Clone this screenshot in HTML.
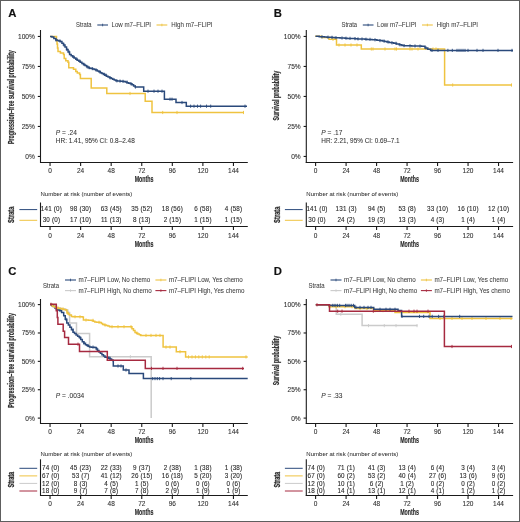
<!DOCTYPE html><html><head><meta charset="utf-8"><style>html,body{margin:0;padding:0;background:#fff;}svg{display:block;will-change:transform;}text{font-family:"Liberation Sans",sans-serif;}</style></head><body>
<svg width="520" height="522" viewBox="0 0 520 522">
<rect x="0" y="0" width="520" height="522" fill="#fff"/>
<line x1="40.50" y1="30.00" x2="40.50" y2="163.00" stroke="#1a1a1a" stroke-width="1.1"/>
<line x1="37.80" y1="36.45" x2="40.50" y2="36.45" stroke="#1a1a1a" stroke-width="1.1"/>
<text x="34.90" y="38.90" font-size="6.6" text-anchor="end" fill="#2e2e2e" stroke="#2e2e2e" stroke-width="0.08" font-weight="normal" font-style="normal">100%</text>
<line x1="37.80" y1="66.45" x2="40.50" y2="66.45" stroke="#1a1a1a" stroke-width="1.1"/>
<text x="34.90" y="68.90" font-size="6.6" text-anchor="end" fill="#2e2e2e" stroke="#2e2e2e" stroke-width="0.08" font-weight="normal" font-style="normal">75%</text>
<line x1="37.80" y1="96.45" x2="40.50" y2="96.45" stroke="#1a1a1a" stroke-width="1.1"/>
<text x="34.90" y="98.90" font-size="6.6" text-anchor="end" fill="#2e2e2e" stroke="#2e2e2e" stroke-width="0.08" font-weight="normal" font-style="normal">50%</text>
<line x1="37.80" y1="126.45" x2="40.50" y2="126.45" stroke="#1a1a1a" stroke-width="1.1"/>
<text x="34.90" y="128.90" font-size="6.6" text-anchor="end" fill="#2e2e2e" stroke="#2e2e2e" stroke-width="0.08" font-weight="normal" font-style="normal">25%</text>
<line x1="37.80" y1="156.45" x2="40.50" y2="156.45" stroke="#1a1a1a" stroke-width="1.1"/>
<text x="34.90" y="158.90" font-size="6.6" text-anchor="end" fill="#2e2e2e" stroke="#2e2e2e" stroke-width="0.08" font-weight="normal" font-style="normal">0%</text>
<line x1="40.00" y1="162.50" x2="247.80" y2="162.50" stroke="#1a1a1a" stroke-width="1.1"/>
<line x1="50.05" y1="162.50" x2="50.05" y2="166.00" stroke="#1a1a1a" stroke-width="1.1"/>
<text x="50.05" y="173.00" font-size="6.5" text-anchor="middle" fill="#2e2e2e" stroke="#2e2e2e" stroke-width="0.08" font-weight="normal" font-style="normal">0</text>
<line x1="80.62" y1="162.50" x2="80.62" y2="166.00" stroke="#1a1a1a" stroke-width="1.1"/>
<text x="80.62" y="173.00" font-size="6.5" text-anchor="middle" fill="#2e2e2e" stroke="#2e2e2e" stroke-width="0.08" font-weight="normal" font-style="normal">24</text>
<line x1="111.18" y1="162.50" x2="111.18" y2="166.00" stroke="#1a1a1a" stroke-width="1.1"/>
<text x="111.18" y="173.00" font-size="6.5" text-anchor="middle" fill="#2e2e2e" stroke="#2e2e2e" stroke-width="0.08" font-weight="normal" font-style="normal">48</text>
<line x1="141.75" y1="162.50" x2="141.75" y2="166.00" stroke="#1a1a1a" stroke-width="1.1"/>
<text x="141.75" y="173.00" font-size="6.5" text-anchor="middle" fill="#2e2e2e" stroke="#2e2e2e" stroke-width="0.08" font-weight="normal" font-style="normal">72</text>
<line x1="172.32" y1="162.50" x2="172.32" y2="166.00" stroke="#1a1a1a" stroke-width="1.1"/>
<text x="172.32" y="173.00" font-size="6.5" text-anchor="middle" fill="#2e2e2e" stroke="#2e2e2e" stroke-width="0.08" font-weight="normal" font-style="normal">96</text>
<line x1="202.88" y1="162.50" x2="202.88" y2="166.00" stroke="#1a1a1a" stroke-width="1.1"/>
<text x="202.88" y="173.00" font-size="6.5" text-anchor="middle" fill="#2e2e2e" stroke="#2e2e2e" stroke-width="0.08" font-weight="normal" font-style="normal">120</text>
<line x1="233.45" y1="162.50" x2="233.45" y2="166.00" stroke="#1a1a1a" stroke-width="1.1"/>
<text x="233.45" y="173.00" font-size="6.5" text-anchor="middle" fill="#2e2e2e" stroke="#2e2e2e" stroke-width="0.08" font-weight="normal" font-style="normal">144</text>
<text x="144.10" y="181.55" font-size="8.8" text-anchor="middle" fill="#2a2a2a" stroke="#2a2a2a" stroke-width="0.15" font-weight="bold" font-style="normal" textLength="18.8" lengthAdjust="spacingAndGlyphs" dy="0.2">Months</text>
<text x="0" y="0" font-size="8.8" font-weight="bold" text-anchor="middle" fill="#2a2a2a" stroke="#2a2a2a" stroke-width="0.2" transform="translate(13.70,97.20) rotate(-90)" textLength="93.7" lengthAdjust="spacingAndGlyphs">Progression–free survival probability</text>
<line x1="306.30" y1="30.00" x2="306.30" y2="163.00" stroke="#1a1a1a" stroke-width="1.1"/>
<line x1="303.60" y1="36.45" x2="306.30" y2="36.45" stroke="#1a1a1a" stroke-width="1.1"/>
<text x="300.70" y="38.90" font-size="6.6" text-anchor="end" fill="#2e2e2e" stroke="#2e2e2e" stroke-width="0.08" font-weight="normal" font-style="normal">100%</text>
<line x1="303.60" y1="66.45" x2="306.30" y2="66.45" stroke="#1a1a1a" stroke-width="1.1"/>
<text x="300.70" y="68.90" font-size="6.6" text-anchor="end" fill="#2e2e2e" stroke="#2e2e2e" stroke-width="0.08" font-weight="normal" font-style="normal">75%</text>
<line x1="303.60" y1="96.45" x2="306.30" y2="96.45" stroke="#1a1a1a" stroke-width="1.1"/>
<text x="300.70" y="98.90" font-size="6.6" text-anchor="end" fill="#2e2e2e" stroke="#2e2e2e" stroke-width="0.08" font-weight="normal" font-style="normal">50%</text>
<line x1="303.60" y1="126.45" x2="306.30" y2="126.45" stroke="#1a1a1a" stroke-width="1.1"/>
<text x="300.70" y="128.90" font-size="6.6" text-anchor="end" fill="#2e2e2e" stroke="#2e2e2e" stroke-width="0.08" font-weight="normal" font-style="normal">25%</text>
<line x1="303.60" y1="156.45" x2="306.30" y2="156.45" stroke="#1a1a1a" stroke-width="1.1"/>
<text x="300.70" y="158.90" font-size="6.6" text-anchor="end" fill="#2e2e2e" stroke="#2e2e2e" stroke-width="0.08" font-weight="normal" font-style="normal">0%</text>
<line x1="305.80" y1="162.50" x2="513.10" y2="162.50" stroke="#1a1a1a" stroke-width="1.1"/>
<line x1="315.60" y1="162.50" x2="315.60" y2="166.00" stroke="#1a1a1a" stroke-width="1.1"/>
<text x="315.60" y="173.00" font-size="6.5" text-anchor="middle" fill="#2e2e2e" stroke="#2e2e2e" stroke-width="0.08" font-weight="normal" font-style="normal">0</text>
<line x1="346.09" y1="162.50" x2="346.09" y2="166.00" stroke="#1a1a1a" stroke-width="1.1"/>
<text x="346.09" y="173.00" font-size="6.5" text-anchor="middle" fill="#2e2e2e" stroke="#2e2e2e" stroke-width="0.08" font-weight="normal" font-style="normal">24</text>
<line x1="376.58" y1="162.50" x2="376.58" y2="166.00" stroke="#1a1a1a" stroke-width="1.1"/>
<text x="376.58" y="173.00" font-size="6.5" text-anchor="middle" fill="#2e2e2e" stroke="#2e2e2e" stroke-width="0.08" font-weight="normal" font-style="normal">48</text>
<line x1="407.07" y1="162.50" x2="407.07" y2="166.00" stroke="#1a1a1a" stroke-width="1.1"/>
<text x="407.07" y="173.00" font-size="6.5" text-anchor="middle" fill="#2e2e2e" stroke="#2e2e2e" stroke-width="0.08" font-weight="normal" font-style="normal">72</text>
<line x1="437.56" y1="162.50" x2="437.56" y2="166.00" stroke="#1a1a1a" stroke-width="1.1"/>
<text x="437.56" y="173.00" font-size="6.5" text-anchor="middle" fill="#2e2e2e" stroke="#2e2e2e" stroke-width="0.08" font-weight="normal" font-style="normal">96</text>
<line x1="468.05" y1="162.50" x2="468.05" y2="166.00" stroke="#1a1a1a" stroke-width="1.1"/>
<text x="468.05" y="173.00" font-size="6.5" text-anchor="middle" fill="#2e2e2e" stroke="#2e2e2e" stroke-width="0.08" font-weight="normal" font-style="normal">120</text>
<line x1="498.54" y1="162.50" x2="498.54" y2="166.00" stroke="#1a1a1a" stroke-width="1.1"/>
<text x="498.54" y="173.00" font-size="6.5" text-anchor="middle" fill="#2e2e2e" stroke="#2e2e2e" stroke-width="0.08" font-weight="normal" font-style="normal">144</text>
<text x="409.60" y="181.55" font-size="8.8" text-anchor="middle" fill="#2a2a2a" stroke="#2a2a2a" stroke-width="0.15" font-weight="bold" font-style="normal" textLength="18.8" lengthAdjust="spacingAndGlyphs" dy="0.2">Months</text>
<text x="0" y="0" font-size="8.8" font-weight="bold" text-anchor="middle" fill="#2a2a2a" stroke="#2a2a2a" stroke-width="0.2" transform="translate(279.20,95.60) rotate(-90)" textLength="49.6" lengthAdjust="spacingAndGlyphs">Survival probability</text>
<line x1="40.50" y1="299.00" x2="40.50" y2="424.00" stroke="#1a1a1a" stroke-width="1.1"/>
<line x1="37.80" y1="304.60" x2="40.50" y2="304.60" stroke="#1a1a1a" stroke-width="1.1"/>
<text x="34.90" y="307.05" font-size="6.6" text-anchor="end" fill="#2e2e2e" stroke="#2e2e2e" stroke-width="0.08" font-weight="normal" font-style="normal">100%</text>
<line x1="37.80" y1="332.98" x2="40.50" y2="332.98" stroke="#1a1a1a" stroke-width="1.1"/>
<text x="34.90" y="335.43" font-size="6.6" text-anchor="end" fill="#2e2e2e" stroke="#2e2e2e" stroke-width="0.08" font-weight="normal" font-style="normal">75%</text>
<line x1="37.80" y1="361.35" x2="40.50" y2="361.35" stroke="#1a1a1a" stroke-width="1.1"/>
<text x="34.90" y="363.80" font-size="6.6" text-anchor="end" fill="#2e2e2e" stroke="#2e2e2e" stroke-width="0.08" font-weight="normal" font-style="normal">50%</text>
<line x1="37.80" y1="389.73" x2="40.50" y2="389.73" stroke="#1a1a1a" stroke-width="1.1"/>
<text x="34.90" y="392.18" font-size="6.6" text-anchor="end" fill="#2e2e2e" stroke="#2e2e2e" stroke-width="0.08" font-weight="normal" font-style="normal">25%</text>
<line x1="37.80" y1="418.10" x2="40.50" y2="418.10" stroke="#1a1a1a" stroke-width="1.1"/>
<text x="34.90" y="420.55" font-size="6.6" text-anchor="end" fill="#2e2e2e" stroke="#2e2e2e" stroke-width="0.08" font-weight="normal" font-style="normal">0%</text>
<line x1="40.00" y1="423.50" x2="247.80" y2="423.50" stroke="#1a1a1a" stroke-width="1.1"/>
<line x1="50.05" y1="423.50" x2="50.05" y2="427.00" stroke="#1a1a1a" stroke-width="1.1"/>
<text x="50.05" y="434.35" font-size="6.5" text-anchor="middle" fill="#2e2e2e" stroke="#2e2e2e" stroke-width="0.08" font-weight="normal" font-style="normal">0</text>
<line x1="80.62" y1="423.50" x2="80.62" y2="427.00" stroke="#1a1a1a" stroke-width="1.1"/>
<text x="80.62" y="434.35" font-size="6.5" text-anchor="middle" fill="#2e2e2e" stroke="#2e2e2e" stroke-width="0.08" font-weight="normal" font-style="normal">24</text>
<line x1="111.18" y1="423.50" x2="111.18" y2="427.00" stroke="#1a1a1a" stroke-width="1.1"/>
<text x="111.18" y="434.35" font-size="6.5" text-anchor="middle" fill="#2e2e2e" stroke="#2e2e2e" stroke-width="0.08" font-weight="normal" font-style="normal">48</text>
<line x1="141.75" y1="423.50" x2="141.75" y2="427.00" stroke="#1a1a1a" stroke-width="1.1"/>
<text x="141.75" y="434.35" font-size="6.5" text-anchor="middle" fill="#2e2e2e" stroke="#2e2e2e" stroke-width="0.08" font-weight="normal" font-style="normal">72</text>
<line x1="172.32" y1="423.50" x2="172.32" y2="427.00" stroke="#1a1a1a" stroke-width="1.1"/>
<text x="172.32" y="434.35" font-size="6.5" text-anchor="middle" fill="#2e2e2e" stroke="#2e2e2e" stroke-width="0.08" font-weight="normal" font-style="normal">96</text>
<line x1="202.88" y1="423.50" x2="202.88" y2="427.00" stroke="#1a1a1a" stroke-width="1.1"/>
<text x="202.88" y="434.35" font-size="6.5" text-anchor="middle" fill="#2e2e2e" stroke="#2e2e2e" stroke-width="0.08" font-weight="normal" font-style="normal">120</text>
<line x1="233.45" y1="423.50" x2="233.45" y2="427.00" stroke="#1a1a1a" stroke-width="1.1"/>
<text x="233.45" y="434.35" font-size="6.5" text-anchor="middle" fill="#2e2e2e" stroke="#2e2e2e" stroke-width="0.08" font-weight="normal" font-style="normal">144</text>
<text x="144.10" y="442.90" font-size="8.8" text-anchor="middle" fill="#2a2a2a" stroke="#2a2a2a" stroke-width="0.15" font-weight="bold" font-style="normal" textLength="18.8" lengthAdjust="spacingAndGlyphs" dy="0.2">Months</text>
<text x="0" y="0" font-size="8.8" font-weight="bold" text-anchor="middle" fill="#2a2a2a" stroke="#2a2a2a" stroke-width="0.2" transform="translate(13.70,360.40) rotate(-90)" textLength="94.5" lengthAdjust="spacingAndGlyphs">Progression–free survival probability</text>
<line x1="306.30" y1="299.00" x2="306.30" y2="424.00" stroke="#1a1a1a" stroke-width="1.1"/>
<line x1="303.60" y1="304.60" x2="306.30" y2="304.60" stroke="#1a1a1a" stroke-width="1.1"/>
<text x="300.70" y="307.05" font-size="6.6" text-anchor="end" fill="#2e2e2e" stroke="#2e2e2e" stroke-width="0.08" font-weight="normal" font-style="normal">100%</text>
<line x1="303.60" y1="332.98" x2="306.30" y2="332.98" stroke="#1a1a1a" stroke-width="1.1"/>
<text x="300.70" y="335.43" font-size="6.6" text-anchor="end" fill="#2e2e2e" stroke="#2e2e2e" stroke-width="0.08" font-weight="normal" font-style="normal">75%</text>
<line x1="303.60" y1="361.35" x2="306.30" y2="361.35" stroke="#1a1a1a" stroke-width="1.1"/>
<text x="300.70" y="363.80" font-size="6.6" text-anchor="end" fill="#2e2e2e" stroke="#2e2e2e" stroke-width="0.08" font-weight="normal" font-style="normal">50%</text>
<line x1="303.60" y1="389.73" x2="306.30" y2="389.73" stroke="#1a1a1a" stroke-width="1.1"/>
<text x="300.70" y="392.18" font-size="6.6" text-anchor="end" fill="#2e2e2e" stroke="#2e2e2e" stroke-width="0.08" font-weight="normal" font-style="normal">25%</text>
<line x1="303.60" y1="418.10" x2="306.30" y2="418.10" stroke="#1a1a1a" stroke-width="1.1"/>
<text x="300.70" y="420.55" font-size="6.6" text-anchor="end" fill="#2e2e2e" stroke="#2e2e2e" stroke-width="0.08" font-weight="normal" font-style="normal">0%</text>
<line x1="305.80" y1="423.50" x2="513.10" y2="423.50" stroke="#1a1a1a" stroke-width="1.1"/>
<line x1="315.60" y1="423.50" x2="315.60" y2="427.00" stroke="#1a1a1a" stroke-width="1.1"/>
<text x="315.60" y="434.35" font-size="6.5" text-anchor="middle" fill="#2e2e2e" stroke="#2e2e2e" stroke-width="0.08" font-weight="normal" font-style="normal">0</text>
<line x1="346.09" y1="423.50" x2="346.09" y2="427.00" stroke="#1a1a1a" stroke-width="1.1"/>
<text x="346.09" y="434.35" font-size="6.5" text-anchor="middle" fill="#2e2e2e" stroke="#2e2e2e" stroke-width="0.08" font-weight="normal" font-style="normal">24</text>
<line x1="376.58" y1="423.50" x2="376.58" y2="427.00" stroke="#1a1a1a" stroke-width="1.1"/>
<text x="376.58" y="434.35" font-size="6.5" text-anchor="middle" fill="#2e2e2e" stroke="#2e2e2e" stroke-width="0.08" font-weight="normal" font-style="normal">48</text>
<line x1="407.07" y1="423.50" x2="407.07" y2="427.00" stroke="#1a1a1a" stroke-width="1.1"/>
<text x="407.07" y="434.35" font-size="6.5" text-anchor="middle" fill="#2e2e2e" stroke="#2e2e2e" stroke-width="0.08" font-weight="normal" font-style="normal">72</text>
<line x1="437.56" y1="423.50" x2="437.56" y2="427.00" stroke="#1a1a1a" stroke-width="1.1"/>
<text x="437.56" y="434.35" font-size="6.5" text-anchor="middle" fill="#2e2e2e" stroke="#2e2e2e" stroke-width="0.08" font-weight="normal" font-style="normal">96</text>
<line x1="468.05" y1="423.50" x2="468.05" y2="427.00" stroke="#1a1a1a" stroke-width="1.1"/>
<text x="468.05" y="434.35" font-size="6.5" text-anchor="middle" fill="#2e2e2e" stroke="#2e2e2e" stroke-width="0.08" font-weight="normal" font-style="normal">120</text>
<line x1="498.54" y1="423.50" x2="498.54" y2="427.00" stroke="#1a1a1a" stroke-width="1.1"/>
<text x="498.54" y="434.35" font-size="6.5" text-anchor="middle" fill="#2e2e2e" stroke="#2e2e2e" stroke-width="0.08" font-weight="normal" font-style="normal">144</text>
<text x="409.60" y="442.90" font-size="8.8" text-anchor="middle" fill="#2a2a2a" stroke="#2a2a2a" stroke-width="0.15" font-weight="bold" font-style="normal" textLength="18.8" lengthAdjust="spacingAndGlyphs" dy="0.2">Months</text>
<text x="0" y="0" font-size="8.8" font-weight="bold" text-anchor="middle" fill="#2a2a2a" stroke="#2a2a2a" stroke-width="0.2" transform="translate(279.20,360.50) rotate(-90)" textLength="49.6" lengthAdjust="spacingAndGlyphs">Survival probability</text>
<text x="8.30" y="16.60" font-size="11.3" text-anchor="start" fill="#111" stroke="#111" stroke-width="0.15" font-weight="bold" font-style="normal">A</text>
<text x="273.80" y="16.60" font-size="11.3" text-anchor="start" fill="#111" stroke="#111" stroke-width="0.15" font-weight="bold" font-style="normal">B</text>
<text x="8.30" y="275.00" font-size="11.3" text-anchor="start" fill="#111" stroke="#111" stroke-width="0.15" font-weight="bold" font-style="normal">C</text>
<text x="273.80" y="275.00" font-size="11.3" text-anchor="start" fill="#111" stroke="#111" stroke-width="0.15" font-weight="bold" font-style="normal">D</text>
<text x="76.00" y="27.30" font-size="6.8" text-anchor="start" fill="#3c3c3c" stroke="#3c3c3c" stroke-width="0.05" font-weight="normal" font-style="normal" textLength="15.6" lengthAdjust="spacingAndGlyphs">Strata</text>
<line x1="97.30" y1="25.00" x2="108.00" y2="25.00" stroke="#2a497b" stroke-width="1.1"/>
<line x1="102.60" y1="23.70" x2="102.60" y2="26.30" stroke="#2a497b" stroke-width="0.8"/>
<text x="111.50" y="27.30" font-size="6.6" text-anchor="start" fill="#3c3c3c" stroke="#3c3c3c" stroke-width="0.05" font-weight="normal" font-style="normal" textLength="39.5" lengthAdjust="spacingAndGlyphs">Low m7–FLIPI</text>
<line x1="156.50" y1="25.00" x2="167.30" y2="25.00" stroke="#efc340" stroke-width="1.1"/>
<line x1="161.90" y1="23.70" x2="161.90" y2="26.30" stroke="#efc340" stroke-width="0.8"/>
<text x="171.20" y="27.30" font-size="6.6" text-anchor="start" fill="#3c3c3c" stroke="#3c3c3c" stroke-width="0.05" font-weight="normal" font-style="normal" textLength="41.3" lengthAdjust="spacingAndGlyphs">High m7–FLIPI</text>
<text x="341.50" y="27.30" font-size="6.8" text-anchor="start" fill="#3c3c3c" stroke="#3c3c3c" stroke-width="0.05" font-weight="normal" font-style="normal" textLength="15.6" lengthAdjust="spacingAndGlyphs">Strata</text>
<line x1="362.80" y1="25.00" x2="373.50" y2="25.00" stroke="#2a497b" stroke-width="1.1"/>
<line x1="368.10" y1="23.70" x2="368.10" y2="26.30" stroke="#2a497b" stroke-width="0.8"/>
<text x="377.00" y="27.30" font-size="6.6" text-anchor="start" fill="#3c3c3c" stroke="#3c3c3c" stroke-width="0.05" font-weight="normal" font-style="normal" textLength="39.5" lengthAdjust="spacingAndGlyphs">Low m7–FLIPI</text>
<line x1="422.00" y1="25.00" x2="432.80" y2="25.00" stroke="#efc340" stroke-width="1.1"/>
<line x1="427.40" y1="23.70" x2="427.40" y2="26.30" stroke="#efc340" stroke-width="0.8"/>
<text x="436.70" y="27.30" font-size="6.6" text-anchor="start" fill="#3c3c3c" stroke="#3c3c3c" stroke-width="0.05" font-weight="normal" font-style="normal" textLength="41.3" lengthAdjust="spacingAndGlyphs">High m7–FLIPI</text>
<text x="43.00" y="287.70" font-size="6.8" text-anchor="start" fill="#3c3c3c" stroke="#3c3c3c" stroke-width="0.05" font-weight="normal" font-style="normal" textLength="16.0" lengthAdjust="spacingAndGlyphs">Strata</text>
<line x1="65.00" y1="280.00" x2="76.00" y2="280.00" stroke="#2a497b" stroke-width="1.1"/>
<line x1="70.50" y1="278.70" x2="70.50" y2="281.30" stroke="#2a497b" stroke-width="0.8"/>
<text x="78.50" y="282.00" font-size="6.5" text-anchor="start" fill="#3c3c3c" stroke="#3c3c3c" stroke-width="0.05" font-weight="normal" font-style="normal" textLength="71.8" lengthAdjust="spacingAndGlyphs">m7–FLIPI Low, No chemo</text>
<line x1="65.00" y1="290.60" x2="76.00" y2="290.60" stroke="#cbcbcb" stroke-width="1.1"/>
<line x1="70.50" y1="289.30" x2="70.50" y2="291.90" stroke="#cbcbcb" stroke-width="0.8"/>
<text x="78.50" y="292.60" font-size="6.5" text-anchor="start" fill="#3c3c3c" stroke="#3c3c3c" stroke-width="0.05" font-weight="normal" font-style="normal" textLength="73.1" lengthAdjust="spacingAndGlyphs">m7–FLIPI High, No chemo</text>
<line x1="155.40" y1="280.00" x2="166.40" y2="280.00" stroke="#efc340" stroke-width="1.1"/>
<line x1="160.90" y1="278.70" x2="160.90" y2="281.30" stroke="#efc340" stroke-width="0.8"/>
<text x="168.90" y="282.00" font-size="6.5" text-anchor="start" fill="#3c3c3c" stroke="#3c3c3c" stroke-width="0.05" font-weight="normal" font-style="normal" textLength="73.9" lengthAdjust="spacingAndGlyphs">m7–FLIPI Low, Yes chemo</text>
<line x1="155.40" y1="290.60" x2="166.40" y2="290.60" stroke="#a62a40" stroke-width="1.1"/>
<line x1="160.90" y1="289.30" x2="160.90" y2="291.90" stroke="#a62a40" stroke-width="0.8"/>
<text x="168.90" y="292.60" font-size="6.5" text-anchor="start" fill="#3c3c3c" stroke="#3c3c3c" stroke-width="0.05" font-weight="normal" font-style="normal" textLength="75.5" lengthAdjust="spacingAndGlyphs">m7–FLIPI High, Yes chemo</text>
<text x="308.50" y="287.70" font-size="6.8" text-anchor="start" fill="#3c3c3c" stroke="#3c3c3c" stroke-width="0.05" font-weight="normal" font-style="normal" textLength="16.0" lengthAdjust="spacingAndGlyphs">Strata</text>
<line x1="330.50" y1="280.00" x2="341.50" y2="280.00" stroke="#2a497b" stroke-width="1.1"/>
<line x1="336.00" y1="278.70" x2="336.00" y2="281.30" stroke="#2a497b" stroke-width="0.8"/>
<text x="344.00" y="282.00" font-size="6.5" text-anchor="start" fill="#3c3c3c" stroke="#3c3c3c" stroke-width="0.05" font-weight="normal" font-style="normal" textLength="71.8" lengthAdjust="spacingAndGlyphs">m7–FLIPI Low, No chemo</text>
<line x1="330.50" y1="290.60" x2="341.50" y2="290.60" stroke="#cbcbcb" stroke-width="1.1"/>
<line x1="336.00" y1="289.30" x2="336.00" y2="291.90" stroke="#cbcbcb" stroke-width="0.8"/>
<text x="344.00" y="292.60" font-size="6.5" text-anchor="start" fill="#3c3c3c" stroke="#3c3c3c" stroke-width="0.05" font-weight="normal" font-style="normal" textLength="73.1" lengthAdjust="spacingAndGlyphs">m7–FLIPI High, No chemo</text>
<line x1="420.90" y1="280.00" x2="431.90" y2="280.00" stroke="#efc340" stroke-width="1.1"/>
<line x1="426.40" y1="278.70" x2="426.40" y2="281.30" stroke="#efc340" stroke-width="0.8"/>
<text x="434.40" y="282.00" font-size="6.5" text-anchor="start" fill="#3c3c3c" stroke="#3c3c3c" stroke-width="0.05" font-weight="normal" font-style="normal" textLength="73.9" lengthAdjust="spacingAndGlyphs">m7–FLIPI Low, Yes chemo</text>
<line x1="420.90" y1="290.60" x2="431.90" y2="290.60" stroke="#a62a40" stroke-width="1.1"/>
<line x1="426.40" y1="289.30" x2="426.40" y2="291.90" stroke="#a62a40" stroke-width="0.8"/>
<text x="434.40" y="292.60" font-size="6.5" text-anchor="start" fill="#3c3c3c" stroke="#3c3c3c" stroke-width="0.05" font-weight="normal" font-style="normal" textLength="75.5" lengthAdjust="spacingAndGlyphs">m7–FLIPI High, Yes chemo</text>
<text x="55.80" y="135.30" font-size="6.6" text-anchor="start" fill="#333" stroke="#333" stroke-width="0.06" font-weight="normal" font-style="normal"><tspan font-style="italic">P</tspan> = .24</text>
<text x="55.80" y="143.00" font-size="6.5" text-anchor="start" fill="#333" stroke="#333" stroke-width="0.06" font-weight="normal" font-style="normal" textLength="79" lengthAdjust="spacingAndGlyphs">HR: 1.41, 95% CI: 0.8–2.48</text>
<text x="321.30" y="135.30" font-size="6.6" text-anchor="start" fill="#333" stroke="#333" stroke-width="0.06" font-weight="normal" font-style="normal"><tspan font-style="italic">P</tspan> = .17</text>
<text x="321.30" y="143.00" font-size="6.5" text-anchor="start" fill="#333" stroke="#333" stroke-width="0.06" font-weight="normal" font-style="normal" textLength="78.3" lengthAdjust="spacingAndGlyphs">HR: 2.21, 95% CI: 0.69–7.1</text>
<text x="55.80" y="398.20" font-size="6.6" text-anchor="start" fill="#333" stroke="#333" stroke-width="0.06" font-weight="normal" font-style="normal"><tspan font-style="italic">P</tspan> = .0034</text>
<text x="321.30" y="398.20" font-size="6.6" text-anchor="start" fill="#333" stroke="#333" stroke-width="0.06" font-weight="normal" font-style="normal"><tspan font-style="italic">P</tspan> = .33</text>
<polyline points="50.05,36.45 56.50,36.45 56.50,40.00 57.00,40.00 57.00,44.00 57.50,44.00 57.50,48.00 58.00,48.00 58.00,51.50 60.40,51.50 60.40,53.00 63.50,53.00 63.50,54.60 64.20,54.60 64.20,58.50 65.80,58.50 65.80,60.80 68.00,60.80 68.00,62.30 68.80,62.30 68.80,67.70 73.50,67.70 73.50,69.20 75.80,69.20 75.80,71.50 77.30,71.50 77.30,73.00 79.60,73.00 79.60,74.60 80.40,74.60 80.40,78.50 91.20,78.50 91.20,87.90 106.80,87.90 106.80,93.50 145.20,93.50 145.20,101.30 152.00,101.30 152.00,112.50 244.00,112.50 244.00,112.50" fill="none" stroke="#efc340" stroke-width="1.5" stroke-linejoin="miter"/>
<line x1="130.00" y1="91.90" x2="130.00" y2="95.10" stroke="#efc340" stroke-width="0.9"/>
<line x1="162.70" y1="110.90" x2="162.70" y2="114.10" stroke="#efc340" stroke-width="0.9"/>
<line x1="177.00" y1="110.90" x2="177.00" y2="114.10" stroke="#efc340" stroke-width="0.9"/>
<line x1="243.50" y1="110.90" x2="243.50" y2="114.10" stroke="#efc340" stroke-width="0.9"/>
<polyline points="50.05,36.45 51.90,36.45 51.90,37.00 53.85,37.00 53.85,38.50 55.80,38.50 55.80,40.00 57.33,40.00 57.33,40.50 58.87,40.50 58.87,41.00 60.40,41.00 60.40,41.50 61.93,41.50 61.93,43.30 63.47,43.30 63.47,45.10 65.00,45.10 65.00,46.90 66.53,46.90 66.53,49.47 68.07,49.47 68.07,52.03 69.60,52.03 69.60,54.60 71.15,54.60 71.15,55.75 72.70,55.75 72.70,56.90 74.25,56.90 74.25,58.05 75.80,58.05 75.80,59.20 77.33,59.20 77.33,60.23 78.87,60.23 78.87,61.27 80.40,61.27 80.40,62.30 81.92,62.30 81.92,63.38 83.44,63.38 83.44,64.46 84.96,64.46 84.96,65.54 86.48,65.54 86.48,66.62 88.00,66.62 88.00,67.70 89.56,67.70 89.56,68.16 91.12,68.16 91.12,68.62 92.68,68.62 92.68,69.08 94.24,69.08 94.24,69.54 95.80,69.54 95.80,70.00 97.33,70.00 97.33,70.89 98.86,70.89 98.86,71.77 100.39,71.77 100.39,72.66 101.91,72.66 101.91,73.54 103.44,73.54 103.44,74.43 104.97,74.43 104.97,75.31 106.50,75.31 106.50,76.20 108.05,76.20 108.05,76.97 109.60,76.97 109.60,77.73 111.15,77.73 111.15,78.50 112.70,78.50 112.70,79.27 114.25,79.27 114.25,80.03 115.80,80.03 115.80,80.80 117.36,80.80 117.36,80.94 118.92,80.94 118.92,81.08 120.48,81.08 120.48,81.22 122.04,81.22 122.04,81.36 123.60,81.36 123.60,81.50 125.30,81.50 125.30,82.08 127.00,82.08 127.00,82.65 128.70,82.65 128.70,83.22 130.40,83.22 130.40,83.80 132.00,83.80 132.00,84.87 133.60,84.87 133.60,85.93 135.20,85.93 135.20,87.00 139.60,87.00 143.70,87.00 143.70,91.20 162.70,91.20 164.40,91.20 164.40,99.20 176.00,99.20 176.00,99.20 176.00,102.50 185.20,102.50 186.30,102.50 186.30,106.20 247.00,106.20" fill="none" stroke="#2a497b" stroke-width="1.5" stroke-linejoin="miter"/>
<line x1="56.00" y1="38.40" x2="56.00" y2="41.60" stroke="#2a497b" stroke-width="0.9"/>
<line x1="60.00" y1="39.40" x2="60.00" y2="42.60" stroke="#2a497b" stroke-width="0.9"/>
<line x1="64.00" y1="43.50" x2="64.00" y2="46.70" stroke="#2a497b" stroke-width="0.9"/>
<line x1="66.90" y1="47.87" x2="66.90" y2="51.07" stroke="#2a497b" stroke-width="0.9"/>
<line x1="69.20" y1="50.43" x2="69.20" y2="53.63" stroke="#2a497b" stroke-width="0.9"/>
<line x1="73.80" y1="55.30" x2="73.80" y2="58.50" stroke="#2a497b" stroke-width="0.9"/>
<line x1="76.90" y1="57.60" x2="76.90" y2="60.80" stroke="#2a497b" stroke-width="0.9"/>
<line x1="80.00" y1="59.67" x2="80.00" y2="62.87" stroke="#2a497b" stroke-width="0.9"/>
<line x1="84.00" y1="62.86" x2="84.00" y2="66.06" stroke="#2a497b" stroke-width="0.9"/>
<line x1="86.90" y1="65.02" x2="86.90" y2="68.22" stroke="#2a497b" stroke-width="0.9"/>
<line x1="89.20" y1="66.10" x2="89.20" y2="69.30" stroke="#2a497b" stroke-width="0.9"/>
<line x1="92.30" y1="67.02" x2="92.30" y2="70.22" stroke="#2a497b" stroke-width="0.9"/>
<line x1="96.00" y1="68.40" x2="96.00" y2="71.60" stroke="#2a497b" stroke-width="0.9"/>
<line x1="100.00" y1="70.17" x2="100.00" y2="73.37" stroke="#2a497b" stroke-width="0.9"/>
<line x1="104.60" y1="72.83" x2="104.60" y2="76.03" stroke="#2a497b" stroke-width="0.9"/>
<line x1="106.20" y1="73.71" x2="106.20" y2="76.91" stroke="#2a497b" stroke-width="0.9"/>
<line x1="110.00" y1="76.13" x2="110.00" y2="79.33" stroke="#2a497b" stroke-width="0.9"/>
<line x1="116.90" y1="79.20" x2="116.90" y2="82.40" stroke="#2a497b" stroke-width="0.9"/>
<line x1="120.00" y1="79.48" x2="120.00" y2="82.68" stroke="#2a497b" stroke-width="0.9"/>
<line x1="123.00" y1="79.76" x2="123.00" y2="82.96" stroke="#2a497b" stroke-width="0.9"/>
<line x1="127.00" y1="80.48" x2="127.00" y2="83.67" stroke="#2a497b" stroke-width="0.9"/>
<line x1="131.00" y1="82.20" x2="131.00" y2="85.40" stroke="#2a497b" stroke-width="0.9"/>
<line x1="135.40" y1="85.40" x2="135.40" y2="88.60" stroke="#2a497b" stroke-width="0.9"/>
<line x1="148.00" y1="89.60" x2="148.00" y2="92.80" stroke="#2a497b" stroke-width="0.9"/>
<line x1="154.00" y1="89.60" x2="154.00" y2="92.80" stroke="#2a497b" stroke-width="0.9"/>
<line x1="158.00" y1="89.60" x2="158.00" y2="92.80" stroke="#2a497b" stroke-width="0.9"/>
<line x1="162.00" y1="89.60" x2="162.00" y2="92.80" stroke="#2a497b" stroke-width="0.9"/>
<line x1="170.00" y1="97.60" x2="170.00" y2="100.80" stroke="#2a497b" stroke-width="0.9"/>
<line x1="172.00" y1="97.60" x2="172.00" y2="100.80" stroke="#2a497b" stroke-width="0.9"/>
<line x1="182.00" y1="100.90" x2="182.00" y2="104.10" stroke="#2a497b" stroke-width="0.9"/>
<line x1="190.60" y1="104.60" x2="190.60" y2="107.80" stroke="#2a497b" stroke-width="0.9"/>
<line x1="194.00" y1="104.60" x2="194.00" y2="107.80" stroke="#2a497b" stroke-width="0.9"/>
<line x1="197.50" y1="104.60" x2="197.50" y2="107.80" stroke="#2a497b" stroke-width="0.9"/>
<line x1="200.60" y1="104.60" x2="200.60" y2="107.80" stroke="#2a497b" stroke-width="0.9"/>
<line x1="206.50" y1="104.60" x2="206.50" y2="107.80" stroke="#2a497b" stroke-width="0.9"/>
<line x1="210.70" y1="104.60" x2="210.70" y2="107.80" stroke="#2a497b" stroke-width="0.9"/>
<line x1="245.00" y1="104.60" x2="245.00" y2="107.80" stroke="#2a497b" stroke-width="0.9"/>
<polyline points="315.20,36.20 321.50,36.20 321.50,37.50 329.00,37.50 329.00,39.30 336.50,39.30 336.50,45.00 361.30,45.00 361.30,49.00 444.60,49.00 444.60,85.00 512.00,85.00 512.00,85.00" fill="none" stroke="#efc340" stroke-width="1.5" stroke-linejoin="miter"/>
<line x1="333.00" y1="37.70" x2="333.00" y2="40.90" stroke="#efc340" stroke-width="0.9"/>
<line x1="339.00" y1="43.40" x2="339.00" y2="46.60" stroke="#efc340" stroke-width="0.9"/>
<line x1="345.00" y1="43.40" x2="345.00" y2="46.60" stroke="#efc340" stroke-width="0.9"/>
<line x1="351.00" y1="43.40" x2="351.00" y2="46.60" stroke="#efc340" stroke-width="0.9"/>
<line x1="357.00" y1="43.40" x2="357.00" y2="46.60" stroke="#efc340" stroke-width="0.9"/>
<line x1="371.30" y1="47.40" x2="371.30" y2="50.60" stroke="#efc340" stroke-width="0.9"/>
<line x1="373.00" y1="47.40" x2="373.00" y2="50.60" stroke="#efc340" stroke-width="0.9"/>
<line x1="385.00" y1="47.40" x2="385.00" y2="50.60" stroke="#efc340" stroke-width="0.9"/>
<line x1="395.00" y1="47.40" x2="395.00" y2="50.60" stroke="#efc340" stroke-width="0.9"/>
<line x1="396.50" y1="47.40" x2="396.50" y2="50.60" stroke="#efc340" stroke-width="0.9"/>
<line x1="410.00" y1="47.40" x2="410.00" y2="50.60" stroke="#efc340" stroke-width="0.9"/>
<line x1="412.00" y1="47.40" x2="412.00" y2="50.60" stroke="#efc340" stroke-width="0.9"/>
<line x1="418.00" y1="47.40" x2="418.00" y2="50.60" stroke="#efc340" stroke-width="0.9"/>
<line x1="433.00" y1="47.40" x2="433.00" y2="50.60" stroke="#efc340" stroke-width="0.9"/>
<line x1="436.00" y1="47.40" x2="436.00" y2="50.60" stroke="#efc340" stroke-width="0.9"/>
<line x1="452.70" y1="83.40" x2="452.70" y2="86.60" stroke="#efc340" stroke-width="0.9"/>
<line x1="511.50" y1="83.40" x2="511.50" y2="86.60" stroke="#efc340" stroke-width="0.9"/>
<polyline points="315.50,36.30 319.20,36.30 319.20,36.70 321.80,36.70 321.80,36.86 324.40,36.86 324.40,37.03 327.00,37.03 327.00,37.19 329.60,37.19 329.60,37.35 332.20,37.35 332.20,37.51 334.80,37.51 334.80,37.67 337.40,37.67 337.40,37.84 340.00,37.84 340.00,38.00 342.50,38.00 342.50,38.12 345.00,38.12 345.00,38.25 347.50,38.25 347.50,38.38 350.00,38.38 350.00,38.50 352.50,38.50 352.50,38.62 355.00,38.62 355.00,38.75 357.50,38.75 357.50,38.88 360.00,38.88 360.00,39.00 362.50,39.00 362.50,39.12 365.00,39.12 365.00,39.25 367.50,39.25 367.50,39.38 370.00,39.38 370.00,39.50 372.10,39.50 372.10,39.65 374.20,39.65 374.20,39.80 376.90,39.80 376.90,40.20 379.60,40.20 379.60,40.60 382.30,40.60 382.30,41.00 384.60,41.00 384.60,41.46 386.90,41.46 386.90,41.92 389.20,41.92 389.20,42.38 391.50,42.38 391.50,42.84 393.80,42.84 393.80,43.30 396.50,43.30 396.50,44.07 399.20,44.07 399.20,44.83 401.90,44.83 401.90,45.60 404.35,45.60 404.35,45.68 406.80,45.68 406.80,45.75 409.25,45.75 409.25,45.83 411.70,45.83 411.70,45.90 414.15,45.90 414.15,45.98 416.60,45.98 416.60,46.05 419.05,46.05 419.05,46.12 421.50,46.12 421.50,46.20 425.00,46.20 425.00,47.90 427.80,47.90 427.80,49.15 430.60,49.15 430.60,50.40 513.00,50.40" fill="none" stroke="#2a497b" stroke-width="1.5" stroke-linejoin="miter"/>
<line x1="322.00" y1="35.26" x2="322.00" y2="38.46" stroke="#2a497b" stroke-width="0.9"/>
<line x1="328.00" y1="35.59" x2="328.00" y2="38.79" stroke="#2a497b" stroke-width="0.9"/>
<line x1="332.00" y1="35.75" x2="332.00" y2="38.95" stroke="#2a497b" stroke-width="0.9"/>
<line x1="336.00" y1="36.07" x2="336.00" y2="39.27" stroke="#2a497b" stroke-width="0.9"/>
<line x1="342.00" y1="36.40" x2="342.00" y2="39.60" stroke="#2a497b" stroke-width="0.9"/>
<line x1="346.00" y1="36.65" x2="346.00" y2="39.85" stroke="#2a497b" stroke-width="0.9"/>
<line x1="350.00" y1="36.77" x2="350.00" y2="39.98" stroke="#2a497b" stroke-width="0.9"/>
<line x1="355.00" y1="37.02" x2="355.00" y2="40.23" stroke="#2a497b" stroke-width="0.9"/>
<line x1="358.00" y1="37.27" x2="358.00" y2="40.48" stroke="#2a497b" stroke-width="0.9"/>
<line x1="362.00" y1="37.40" x2="362.00" y2="40.60" stroke="#2a497b" stroke-width="0.9"/>
<line x1="366.00" y1="37.65" x2="366.00" y2="40.85" stroke="#2a497b" stroke-width="0.9"/>
<line x1="370.00" y1="37.77" x2="370.00" y2="40.98" stroke="#2a497b" stroke-width="0.9"/>
<line x1="375.00" y1="38.20" x2="375.00" y2="41.40" stroke="#2a497b" stroke-width="0.9"/>
<line x1="380.00" y1="39.00" x2="380.00" y2="42.20" stroke="#2a497b" stroke-width="0.9"/>
<line x1="384.00" y1="39.40" x2="384.00" y2="42.60" stroke="#2a497b" stroke-width="0.9"/>
<line x1="388.00" y1="40.32" x2="388.00" y2="43.52" stroke="#2a497b" stroke-width="0.9"/>
<line x1="392.00" y1="41.24" x2="392.00" y2="44.44" stroke="#2a497b" stroke-width="0.9"/>
<line x1="396.00" y1="41.70" x2="396.00" y2="44.90" stroke="#2a497b" stroke-width="0.9"/>
<line x1="400.00" y1="43.23" x2="400.00" y2="46.43" stroke="#2a497b" stroke-width="0.9"/>
<line x1="404.00" y1="44.00" x2="404.00" y2="47.20" stroke="#2a497b" stroke-width="0.9"/>
<line x1="410.00" y1="44.23" x2="410.00" y2="47.43" stroke="#2a497b" stroke-width="0.9"/>
<line x1="415.00" y1="44.38" x2="415.00" y2="47.58" stroke="#2a497b" stroke-width="0.9"/>
<line x1="420.00" y1="44.52" x2="420.00" y2="47.73" stroke="#2a497b" stroke-width="0.9"/>
<line x1="426.00" y1="46.30" x2="426.00" y2="49.50" stroke="#2a497b" stroke-width="0.9"/>
<line x1="432.00" y1="48.80" x2="432.00" y2="52.00" stroke="#2a497b" stroke-width="0.9"/>
<line x1="438.00" y1="48.80" x2="438.00" y2="52.00" stroke="#2a497b" stroke-width="0.9"/>
<line x1="447.90" y1="48.80" x2="447.90" y2="52.00" stroke="#2a497b" stroke-width="0.9"/>
<line x1="452.30" y1="48.80" x2="452.30" y2="52.00" stroke="#2a497b" stroke-width="0.9"/>
<line x1="457.00" y1="48.80" x2="457.00" y2="52.00" stroke="#2a497b" stroke-width="0.9"/>
<line x1="459.00" y1="48.80" x2="459.00" y2="52.00" stroke="#2a497b" stroke-width="0.9"/>
<line x1="461.00" y1="48.80" x2="461.00" y2="52.00" stroke="#2a497b" stroke-width="0.9"/>
<line x1="463.00" y1="48.80" x2="463.00" y2="52.00" stroke="#2a497b" stroke-width="0.9"/>
<line x1="465.00" y1="48.80" x2="465.00" y2="52.00" stroke="#2a497b" stroke-width="0.9"/>
<line x1="468.00" y1="48.80" x2="468.00" y2="52.00" stroke="#2a497b" stroke-width="0.9"/>
<line x1="477.00" y1="48.80" x2="477.00" y2="52.00" stroke="#2a497b" stroke-width="0.9"/>
<line x1="483.00" y1="48.80" x2="483.00" y2="52.00" stroke="#2a497b" stroke-width="0.9"/>
<line x1="498.00" y1="48.80" x2="498.00" y2="52.00" stroke="#2a497b" stroke-width="0.9"/>
<line x1="512.00" y1="48.80" x2="512.00" y2="52.00" stroke="#2a497b" stroke-width="0.9"/>
<polyline points="50.05,304.60 52.20,304.60 52.20,305.90 56.40,305.90 56.40,307.90 60.50,307.90 60.50,309.00 65.70,309.00 65.70,310.00 67.80,310.00 67.80,312.60 69.60,312.60 69.60,323.10 76.50,323.10 76.50,333.50 89.60,333.50 89.60,356.70 151.20,356.70 151.20,418.10" fill="none" stroke="#cbcbcb" stroke-width="1.5" stroke-linejoin="miter"/>
<line x1="130.40" y1="355.10" x2="130.40" y2="358.30" stroke="#cbcbcb" stroke-width="0.9"/>
<polyline points="50.05,304.60 51.67,304.60 51.67,305.50 53.30,305.50 53.30,306.40 54.85,306.40 54.85,307.95 56.40,307.95 56.40,309.50 57.95,309.50 57.95,310.00 59.50,310.00 59.50,310.50 61.60,310.50 61.60,312.60 63.70,312.60 63.70,315.70 65.25,315.70 65.25,319.35 66.80,319.35 66.80,323.00 68.35,323.00 68.35,325.10 69.90,325.10 69.90,327.20 71.45,327.20 71.45,329.75 73.00,329.75 73.00,332.30 74.55,332.30 74.55,333.60 76.10,333.60 76.10,334.90 77.65,334.90 77.65,336.20 79.20,336.20 79.20,337.50 80.75,337.50 80.75,339.60 82.30,339.60 82.30,341.70 83.90,341.70 83.90,343.25 85.50,343.25 85.50,344.80 86.87,344.80 86.87,345.50 88.23,345.50 88.23,346.20 89.60,346.20 89.60,346.90 91.33,346.90 91.33,347.13 93.07,347.13 93.07,347.37 94.80,347.37 94.80,347.60 96.20,347.60 96.20,349.03 97.60,349.03 97.60,350.45 99.00,350.45 99.00,351.88 100.40,351.88 100.40,353.30 101.93,353.30 101.93,354.63 103.47,354.63 103.47,355.97 105.00,355.97 105.00,357.30 107.30,357.30 108.72,357.30 108.72,358.18 110.15,358.18 110.15,359.05 111.58,359.05 111.58,359.93 113.00,359.93 113.00,360.80 113.30,360.80 113.30,366.00 123.00,366.00 123.30,366.00 123.30,370.00 128.70,370.00 129.00,370.00 129.00,373.50 143.20,373.50 143.40,373.50 143.40,378.60 247.70,378.60" fill="none" stroke="#2a497b" stroke-width="1.5" stroke-linejoin="miter"/>
<line x1="60.00" y1="308.90" x2="60.00" y2="312.10" stroke="#2a497b" stroke-width="0.9"/>
<line x1="66.00" y1="317.75" x2="66.00" y2="320.95" stroke="#2a497b" stroke-width="0.9"/>
<line x1="73.00" y1="328.15" x2="73.00" y2="331.35" stroke="#2a497b" stroke-width="0.9"/>
<line x1="80.00" y1="335.90" x2="80.00" y2="339.10" stroke="#2a497b" stroke-width="0.9"/>
<line x1="84.00" y1="341.65" x2="84.00" y2="344.85" stroke="#2a497b" stroke-width="0.9"/>
<line x1="88.00" y1="343.90" x2="88.00" y2="347.10" stroke="#2a497b" stroke-width="0.9"/>
<line x1="93.00" y1="345.53" x2="93.00" y2="348.73" stroke="#2a497b" stroke-width="0.9"/>
<line x1="97.00" y1="347.43" x2="97.00" y2="350.63" stroke="#2a497b" stroke-width="0.9"/>
<line x1="110.00" y1="356.57" x2="110.00" y2="359.78" stroke="#2a497b" stroke-width="0.9"/>
<line x1="118.00" y1="364.40" x2="118.00" y2="367.60" stroke="#2a497b" stroke-width="0.9"/>
<line x1="121.00" y1="364.40" x2="121.00" y2="367.60" stroke="#2a497b" stroke-width="0.9"/>
<line x1="126.00" y1="368.40" x2="126.00" y2="371.60" stroke="#2a497b" stroke-width="0.9"/>
<line x1="152.70" y1="377.00" x2="152.70" y2="380.20" stroke="#2a497b" stroke-width="0.9"/>
<line x1="155.00" y1="377.00" x2="155.00" y2="380.20" stroke="#2a497b" stroke-width="0.9"/>
<line x1="157.30" y1="377.00" x2="157.30" y2="380.20" stroke="#2a497b" stroke-width="0.9"/>
<line x1="159.60" y1="377.00" x2="159.60" y2="380.20" stroke="#2a497b" stroke-width="0.9"/>
<line x1="163.00" y1="377.00" x2="163.00" y2="380.20" stroke="#2a497b" stroke-width="0.9"/>
<line x1="171.20" y1="377.00" x2="171.20" y2="380.20" stroke="#2a497b" stroke-width="0.9"/>
<line x1="190.80" y1="377.00" x2="190.80" y2="380.20" stroke="#2a497b" stroke-width="0.9"/>
<polyline points="50.05,304.60 52.20,304.60 52.20,305.90 53.60,305.90 53.60,306.57 55.00,306.57 55.00,307.23 56.40,307.23 56.40,307.90 58.10,307.90 58.10,308.23 59.80,308.23 59.80,308.57 61.50,308.57 61.50,308.90 63.07,308.90 63.07,309.30 64.63,309.30 64.63,309.70 66.20,309.70 66.20,310.10 66.90,310.10 66.90,313.10 68.15,313.10 68.15,314.05 69.40,314.05 69.40,315.00 71.40,315.00 71.40,316.60 72.96,316.60 72.96,316.64 74.51,316.64 74.51,316.69 76.07,316.69 76.07,316.73 77.63,316.73 77.63,316.77 79.19,316.77 79.19,316.81 80.74,316.81 80.74,316.86 82.30,316.86 82.30,316.90 83.40,316.90 83.40,319.90 85.06,319.90 85.06,320.00 86.72,320.00 86.72,320.10 88.38,320.10 88.38,320.20 90.04,320.20 90.04,320.30 91.70,320.30 91.70,320.40 93.25,320.40 93.25,321.20 94.80,321.20 94.80,322.00 96.53,322.00 96.53,322.17 98.27,322.17 98.27,322.33 100.00,322.33 100.00,322.50 101.35,322.50 101.35,323.45 102.70,323.45 102.70,324.40 104.42,324.40 104.42,324.97 106.15,324.97 106.15,325.55 107.88,325.55 107.88,326.12 109.60,326.12 109.60,326.70 130.40,326.70 131.93,326.70 131.93,328.63 133.47,328.63 133.47,330.57 135.00,330.57 135.00,332.50 136.45,332.50 136.45,333.23 137.90,333.23 137.90,333.95 139.35,333.95 139.35,334.67 140.80,334.67 140.80,335.40 163.10,335.40 163.10,335.40 163.10,347.10 176.30,347.10 176.30,347.10 176.30,351.70 185.60,351.70 185.60,351.70 185.60,356.90 247.70,356.90" fill="none" stroke="#efc340" stroke-width="1.5" stroke-linejoin="miter"/>
<line x1="58.00" y1="306.30" x2="58.00" y2="309.50" stroke="#efc340" stroke-width="0.9"/>
<line x1="63.00" y1="307.30" x2="63.00" y2="310.50" stroke="#efc340" stroke-width="0.9"/>
<line x1="68.00" y1="311.50" x2="68.00" y2="314.70" stroke="#efc340" stroke-width="0.9"/>
<line x1="75.00" y1="315.09" x2="75.00" y2="318.29" stroke="#efc340" stroke-width="0.9"/>
<line x1="80.00" y1="315.21" x2="80.00" y2="318.41" stroke="#efc340" stroke-width="0.9"/>
<line x1="86.00" y1="318.40" x2="86.00" y2="321.60" stroke="#efc340" stroke-width="0.9"/>
<line x1="93.00" y1="318.80" x2="93.00" y2="322.00" stroke="#efc340" stroke-width="0.9"/>
<line x1="99.00" y1="320.73" x2="99.00" y2="323.93" stroke="#efc340" stroke-width="0.9"/>
<line x1="105.00" y1="323.37" x2="105.00" y2="326.57" stroke="#efc340" stroke-width="0.9"/>
<line x1="112.00" y1="325.10" x2="112.00" y2="328.30" stroke="#efc340" stroke-width="0.9"/>
<line x1="118.00" y1="325.10" x2="118.00" y2="328.30" stroke="#efc340" stroke-width="0.9"/>
<line x1="124.00" y1="325.10" x2="124.00" y2="328.30" stroke="#efc340" stroke-width="0.9"/>
<line x1="131.00" y1="325.10" x2="131.00" y2="328.30" stroke="#efc340" stroke-width="0.9"/>
<line x1="137.00" y1="331.62" x2="137.00" y2="334.83" stroke="#efc340" stroke-width="0.9"/>
<line x1="146.00" y1="333.80" x2="146.00" y2="337.00" stroke="#efc340" stroke-width="0.9"/>
<line x1="151.00" y1="333.80" x2="151.00" y2="337.00" stroke="#efc340" stroke-width="0.9"/>
<line x1="156.00" y1="333.80" x2="156.00" y2="337.00" stroke="#efc340" stroke-width="0.9"/>
<line x1="160.00" y1="333.80" x2="160.00" y2="337.00" stroke="#efc340" stroke-width="0.9"/>
<line x1="166.00" y1="345.50" x2="166.00" y2="348.70" stroke="#efc340" stroke-width="0.9"/>
<line x1="170.00" y1="345.50" x2="170.00" y2="348.70" stroke="#efc340" stroke-width="0.9"/>
<line x1="180.00" y1="350.10" x2="180.00" y2="353.30" stroke="#efc340" stroke-width="0.9"/>
<line x1="188.50" y1="355.30" x2="188.50" y2="358.50" stroke="#efc340" stroke-width="0.9"/>
<line x1="192.00" y1="355.30" x2="192.00" y2="358.50" stroke="#efc340" stroke-width="0.9"/>
<line x1="195.40" y1="355.30" x2="195.40" y2="358.50" stroke="#efc340" stroke-width="0.9"/>
<line x1="198.80" y1="355.30" x2="198.80" y2="358.50" stroke="#efc340" stroke-width="0.9"/>
<line x1="202.30" y1="355.30" x2="202.30" y2="358.50" stroke="#efc340" stroke-width="0.9"/>
<line x1="205.80" y1="355.30" x2="205.80" y2="358.50" stroke="#efc340" stroke-width="0.9"/>
<line x1="209.20" y1="355.30" x2="209.20" y2="358.50" stroke="#efc340" stroke-width="0.9"/>
<line x1="246.00" y1="355.30" x2="246.00" y2="358.50" stroke="#efc340" stroke-width="0.9"/>
<polyline points="50.05,304.30 56.30,304.30 56.30,310.80 57.30,310.80 57.30,317.50 57.90,317.50 57.90,324.20 63.20,324.20 63.20,331.20 64.60,331.20 64.60,337.60 68.50,337.60 68.50,344.20 79.50,344.20 79.50,351.50 107.30,351.50 107.30,360.30 145.30,360.30 145.30,368.40 244.00,368.40 244.00,368.40" fill="none" stroke="#a62a40" stroke-width="1.5" stroke-linejoin="miter"/>
<line x1="51.00" y1="302.70" x2="51.00" y2="305.90" stroke="#a62a40" stroke-width="0.9"/>
<line x1="78.00" y1="342.60" x2="78.00" y2="345.80" stroke="#a62a40" stroke-width="0.9"/>
<line x1="151.50" y1="366.80" x2="151.50" y2="370.00" stroke="#a62a40" stroke-width="0.9"/>
<line x1="163.00" y1="366.80" x2="163.00" y2="370.00" stroke="#a62a40" stroke-width="0.9"/>
<line x1="177.00" y1="366.80" x2="177.00" y2="370.00" stroke="#a62a40" stroke-width="0.9"/>
<line x1="242.70" y1="366.80" x2="242.70" y2="370.00" stroke="#a62a40" stroke-width="0.9"/>
<polyline points="315.80,304.80 336.30,304.80 336.30,314.20 362.10,314.20 362.10,325.60 417.50,325.60 417.50,325.60" fill="none" stroke="#cbcbcb" stroke-width="1.5" stroke-linejoin="miter"/>
<line x1="340.80" y1="312.60" x2="340.80" y2="315.80" stroke="#cbcbcb" stroke-width="0.9"/>
<line x1="368.50" y1="324.00" x2="368.50" y2="327.20" stroke="#cbcbcb" stroke-width="0.9"/>
<line x1="384.30" y1="324.00" x2="384.30" y2="327.20" stroke="#cbcbcb" stroke-width="0.9"/>
<line x1="396.00" y1="324.00" x2="396.00" y2="327.20" stroke="#cbcbcb" stroke-width="0.9"/>
<line x1="417.00" y1="324.00" x2="417.00" y2="327.20" stroke="#cbcbcb" stroke-width="0.9"/>
<polyline points="315.80,304.80 329.00,304.80 329.00,306.70 355.00,306.70 355.00,308.60 374.00,308.60 374.00,310.60 395.00,310.60 395.00,312.50 430.00,312.50 430.00,318.40 512.50,318.40 512.50,318.40" fill="none" stroke="#efc340" stroke-width="1.5" stroke-linejoin="miter"/>
<line x1="330.00" y1="305.10" x2="330.00" y2="308.30" stroke="#efc340" stroke-width="0.9"/>
<line x1="336.00" y1="305.10" x2="336.00" y2="308.30" stroke="#efc340" stroke-width="0.9"/>
<line x1="345.00" y1="305.10" x2="345.00" y2="308.30" stroke="#efc340" stroke-width="0.9"/>
<line x1="352.00" y1="305.10" x2="352.00" y2="308.30" stroke="#efc340" stroke-width="0.9"/>
<line x1="360.00" y1="307.00" x2="360.00" y2="310.20" stroke="#efc340" stroke-width="0.9"/>
<line x1="367.00" y1="307.00" x2="367.00" y2="310.20" stroke="#efc340" stroke-width="0.9"/>
<line x1="375.00" y1="309.00" x2="375.00" y2="312.20" stroke="#efc340" stroke-width="0.9"/>
<line x1="383.00" y1="309.00" x2="383.00" y2="312.20" stroke="#efc340" stroke-width="0.9"/>
<line x1="392.00" y1="309.00" x2="392.00" y2="312.20" stroke="#efc340" stroke-width="0.9"/>
<line x1="440.00" y1="316.80" x2="440.00" y2="320.00" stroke="#efc340" stroke-width="0.9"/>
<line x1="452.00" y1="316.80" x2="452.00" y2="320.00" stroke="#efc340" stroke-width="0.9"/>
<line x1="462.00" y1="316.80" x2="462.00" y2="320.00" stroke="#efc340" stroke-width="0.9"/>
<line x1="472.00" y1="316.80" x2="472.00" y2="320.00" stroke="#efc340" stroke-width="0.9"/>
<line x1="486.00" y1="316.80" x2="486.00" y2="320.00" stroke="#efc340" stroke-width="0.9"/>
<line x1="500.00" y1="316.80" x2="500.00" y2="320.00" stroke="#efc340" stroke-width="0.9"/>
<line x1="511.00" y1="316.80" x2="511.00" y2="320.00" stroke="#efc340" stroke-width="0.9"/>
<polyline points="315.80,304.80 329.00,304.80 329.00,305.40 354.70,305.40 354.70,307.40 373.70,307.40 373.70,309.30 398.00,309.30 398.00,310.60 401.60,310.60 401.60,316.40 512.50,316.40 512.50,316.40" fill="none" stroke="#2a497b" stroke-width="1.5" stroke-linejoin="miter"/>
<line x1="332.80" y1="303.80" x2="332.80" y2="307.00" stroke="#2a497b" stroke-width="0.9"/>
<line x1="335.00" y1="303.80" x2="335.00" y2="307.00" stroke="#2a497b" stroke-width="0.9"/>
<line x1="337.40" y1="303.80" x2="337.40" y2="307.00" stroke="#2a497b" stroke-width="0.9"/>
<line x1="339.70" y1="303.80" x2="339.70" y2="307.00" stroke="#2a497b" stroke-width="0.9"/>
<line x1="345.50" y1="303.80" x2="345.50" y2="307.00" stroke="#2a497b" stroke-width="0.9"/>
<line x1="347.00" y1="303.80" x2="347.00" y2="307.00" stroke="#2a497b" stroke-width="0.9"/>
<line x1="349.00" y1="303.80" x2="349.00" y2="307.00" stroke="#2a497b" stroke-width="0.9"/>
<line x1="351.20" y1="303.80" x2="351.20" y2="307.00" stroke="#2a497b" stroke-width="0.9"/>
<line x1="353.50" y1="303.80" x2="353.50" y2="307.00" stroke="#2a497b" stroke-width="0.9"/>
<line x1="356.00" y1="305.80" x2="356.00" y2="309.00" stroke="#2a497b" stroke-width="0.9"/>
<line x1="360.00" y1="305.80" x2="360.00" y2="309.00" stroke="#2a497b" stroke-width="0.9"/>
<line x1="364.00" y1="305.80" x2="364.00" y2="309.00" stroke="#2a497b" stroke-width="0.9"/>
<line x1="368.00" y1="305.80" x2="368.00" y2="309.00" stroke="#2a497b" stroke-width="0.9"/>
<line x1="371.00" y1="305.80" x2="371.00" y2="309.00" stroke="#2a497b" stroke-width="0.9"/>
<line x1="380.00" y1="307.70" x2="380.00" y2="310.90" stroke="#2a497b" stroke-width="0.9"/>
<line x1="386.00" y1="307.70" x2="386.00" y2="310.90" stroke="#2a497b" stroke-width="0.9"/>
<line x1="390.00" y1="307.70" x2="390.00" y2="310.90" stroke="#2a497b" stroke-width="0.9"/>
<line x1="395.00" y1="307.70" x2="395.00" y2="310.90" stroke="#2a497b" stroke-width="0.9"/>
<line x1="402.00" y1="314.80" x2="402.00" y2="318.00" stroke="#2a497b" stroke-width="0.9"/>
<line x1="419.50" y1="314.80" x2="419.50" y2="318.00" stroke="#2a497b" stroke-width="0.9"/>
<line x1="423.70" y1="314.80" x2="423.70" y2="318.00" stroke="#2a497b" stroke-width="0.9"/>
<line x1="429.00" y1="314.80" x2="429.00" y2="318.00" stroke="#2a497b" stroke-width="0.9"/>
<line x1="432.20" y1="314.80" x2="432.20" y2="318.00" stroke="#2a497b" stroke-width="0.9"/>
<line x1="438.60" y1="314.80" x2="438.60" y2="318.00" stroke="#2a497b" stroke-width="0.9"/>
<line x1="443.80" y1="314.80" x2="443.80" y2="318.00" stroke="#2a497b" stroke-width="0.9"/>
<line x1="459.70" y1="314.80" x2="459.70" y2="318.00" stroke="#2a497b" stroke-width="0.9"/>
<polyline points="315.80,304.80 329.50,304.80 329.50,311.20 444.40,311.20 444.40,346.50 512.00,346.50 512.00,346.50" fill="none" stroke="#a62a40" stroke-width="1.5" stroke-linejoin="miter"/>
<line x1="317.00" y1="303.20" x2="317.00" y2="306.40" stroke="#a62a40" stroke-width="0.9"/>
<line x1="337.70" y1="309.60" x2="337.70" y2="312.80" stroke="#a62a40" stroke-width="0.9"/>
<line x1="342.00" y1="309.60" x2="342.00" y2="312.80" stroke="#a62a40" stroke-width="0.9"/>
<line x1="373.30" y1="309.60" x2="373.30" y2="312.80" stroke="#a62a40" stroke-width="0.9"/>
<line x1="409.00" y1="309.60" x2="409.00" y2="312.80" stroke="#a62a40" stroke-width="0.9"/>
<line x1="414.00" y1="309.60" x2="414.00" y2="312.80" stroke="#a62a40" stroke-width="0.9"/>
<line x1="417.00" y1="309.60" x2="417.00" y2="312.80" stroke="#a62a40" stroke-width="0.9"/>
<line x1="428.00" y1="309.60" x2="428.00" y2="312.80" stroke="#a62a40" stroke-width="0.9"/>
<line x1="452.00" y1="344.90" x2="452.00" y2="348.10" stroke="#a62a40" stroke-width="0.9"/>
<line x1="511.50" y1="344.90" x2="511.50" y2="348.10" stroke="#a62a40" stroke-width="0.9"/>
<text x="40.50" y="196.40" font-size="6.0" text-anchor="start" fill="#333" stroke="#333" stroke-width="0.05" font-weight="normal" font-style="normal" textLength="91.9" lengthAdjust="spacingAndGlyphs" letter-spacing="0.03">Number at risk (number of events)</text>
<line x1="40.50" y1="202.50" x2="40.50" y2="227.00" stroke="#1a1a1a" stroke-width="1.1"/>
<line x1="40.00" y1="226.50" x2="247.80" y2="226.50" stroke="#1a1a1a" stroke-width="1.1"/>
<line x1="50.05" y1="226.50" x2="50.05" y2="230.00" stroke="#1a1a1a" stroke-width="1.1"/>
<text x="50.05" y="237.60" font-size="6.5" text-anchor="middle" fill="#2e2e2e" stroke="#2e2e2e" stroke-width="0.08" font-weight="normal" font-style="normal">0</text>
<line x1="80.62" y1="226.50" x2="80.62" y2="230.00" stroke="#1a1a1a" stroke-width="1.1"/>
<text x="80.62" y="237.60" font-size="6.5" text-anchor="middle" fill="#2e2e2e" stroke="#2e2e2e" stroke-width="0.08" font-weight="normal" font-style="normal">24</text>
<line x1="111.18" y1="226.50" x2="111.18" y2="230.00" stroke="#1a1a1a" stroke-width="1.1"/>
<text x="111.18" y="237.60" font-size="6.5" text-anchor="middle" fill="#2e2e2e" stroke="#2e2e2e" stroke-width="0.08" font-weight="normal" font-style="normal">48</text>
<line x1="141.75" y1="226.50" x2="141.75" y2="230.00" stroke="#1a1a1a" stroke-width="1.1"/>
<text x="141.75" y="237.60" font-size="6.5" text-anchor="middle" fill="#2e2e2e" stroke="#2e2e2e" stroke-width="0.08" font-weight="normal" font-style="normal">72</text>
<line x1="172.32" y1="226.50" x2="172.32" y2="230.00" stroke="#1a1a1a" stroke-width="1.1"/>
<text x="172.32" y="237.60" font-size="6.5" text-anchor="middle" fill="#2e2e2e" stroke="#2e2e2e" stroke-width="0.08" font-weight="normal" font-style="normal">96</text>
<line x1="202.88" y1="226.50" x2="202.88" y2="230.00" stroke="#1a1a1a" stroke-width="1.1"/>
<text x="202.88" y="237.60" font-size="6.5" text-anchor="middle" fill="#2e2e2e" stroke="#2e2e2e" stroke-width="0.08" font-weight="normal" font-style="normal">120</text>
<line x1="233.45" y1="226.50" x2="233.45" y2="230.00" stroke="#1a1a1a" stroke-width="1.1"/>
<text x="233.45" y="237.60" font-size="6.5" text-anchor="middle" fill="#2e2e2e" stroke="#2e2e2e" stroke-width="0.08" font-weight="normal" font-style="normal">144</text>
<text x="144.10" y="246.35" font-size="8.8" text-anchor="middle" fill="#2a2a2a" stroke="#2a2a2a" stroke-width="0.15" font-weight="bold" font-style="normal" textLength="18.8" lengthAdjust="spacingAndGlyphs" dy="0.2">Months</text>
<line x1="19.40" y1="209.60" x2="37.20" y2="209.60" stroke="#2a497b" stroke-width="1.0"/>
<text x="51.45" y="210.80" font-size="6.3" text-anchor="middle" fill="#282828" stroke="#282828" stroke-width="0.1" font-weight="normal" font-style="normal" letter-spacing="0.18">141 (0)</text>
<text x="80.72" y="210.80" font-size="6.3" text-anchor="middle" fill="#282828" stroke="#282828" stroke-width="0.1" font-weight="normal" font-style="normal" letter-spacing="0.18">98 (30)</text>
<text x="111.28" y="210.80" font-size="6.3" text-anchor="middle" fill="#282828" stroke="#282828" stroke-width="0.1" font-weight="normal" font-style="normal" letter-spacing="0.18">63 (45)</text>
<text x="141.85" y="210.80" font-size="6.3" text-anchor="middle" fill="#282828" stroke="#282828" stroke-width="0.1" font-weight="normal" font-style="normal" letter-spacing="0.18">35 (52)</text>
<text x="172.42" y="210.80" font-size="6.3" text-anchor="middle" fill="#282828" stroke="#282828" stroke-width="0.1" font-weight="normal" font-style="normal" letter-spacing="0.18">18 (56)</text>
<text x="202.98" y="210.80" font-size="6.3" text-anchor="middle" fill="#282828" stroke="#282828" stroke-width="0.1" font-weight="normal" font-style="normal" letter-spacing="0.18">6 (58)</text>
<text x="233.55" y="210.80" font-size="6.3" text-anchor="middle" fill="#282828" stroke="#282828" stroke-width="0.1" font-weight="normal" font-style="normal" letter-spacing="0.18">4 (58)</text>
<line x1="19.40" y1="220.30" x2="37.20" y2="220.30" stroke="#efc340" stroke-width="1.0"/>
<text x="51.45" y="221.50" font-size="6.3" text-anchor="middle" fill="#282828" stroke="#282828" stroke-width="0.1" font-weight="normal" font-style="normal" letter-spacing="0.18">30 (0)</text>
<text x="80.72" y="221.50" font-size="6.3" text-anchor="middle" fill="#282828" stroke="#282828" stroke-width="0.1" font-weight="normal" font-style="normal" letter-spacing="0.18">17 (10)</text>
<text x="111.28" y="221.50" font-size="6.3" text-anchor="middle" fill="#282828" stroke="#282828" stroke-width="0.1" font-weight="normal" font-style="normal" letter-spacing="0.18">11 (13)</text>
<text x="141.85" y="221.50" font-size="6.3" text-anchor="middle" fill="#282828" stroke="#282828" stroke-width="0.1" font-weight="normal" font-style="normal" letter-spacing="0.18">8 (13)</text>
<text x="172.42" y="221.50" font-size="6.3" text-anchor="middle" fill="#282828" stroke="#282828" stroke-width="0.1" font-weight="normal" font-style="normal" letter-spacing="0.18">2 (15)</text>
<text x="202.98" y="221.50" font-size="6.3" text-anchor="middle" fill="#282828" stroke="#282828" stroke-width="0.1" font-weight="normal" font-style="normal" letter-spacing="0.18">1 (15)</text>
<text x="233.55" y="221.50" font-size="6.3" text-anchor="middle" fill="#282828" stroke="#282828" stroke-width="0.1" font-weight="normal" font-style="normal" letter-spacing="0.18">1 (15)</text>
<text x="0" y="0" font-size="8.5" font-weight="bold" text-anchor="middle" fill="#2a2a2a" stroke="#2a2a2a" stroke-width="0.3" transform="translate(14.00,214.70) rotate(-90)" textLength="16.4" lengthAdjust="spacingAndGlyphs">Strata</text>
<text x="306.30" y="196.40" font-size="6.0" text-anchor="start" fill="#333" stroke="#333" stroke-width="0.05" font-weight="normal" font-style="normal" textLength="91.9" lengthAdjust="spacingAndGlyphs" letter-spacing="0.03">Number at risk (number of events)</text>
<line x1="306.30" y1="202.50" x2="306.30" y2="227.00" stroke="#1a1a1a" stroke-width="1.1"/>
<line x1="305.80" y1="226.50" x2="513.10" y2="226.50" stroke="#1a1a1a" stroke-width="1.1"/>
<line x1="315.60" y1="226.50" x2="315.60" y2="230.00" stroke="#1a1a1a" stroke-width="1.1"/>
<text x="315.60" y="237.60" font-size="6.5" text-anchor="middle" fill="#2e2e2e" stroke="#2e2e2e" stroke-width="0.08" font-weight="normal" font-style="normal">0</text>
<line x1="346.09" y1="226.50" x2="346.09" y2="230.00" stroke="#1a1a1a" stroke-width="1.1"/>
<text x="346.09" y="237.60" font-size="6.5" text-anchor="middle" fill="#2e2e2e" stroke="#2e2e2e" stroke-width="0.08" font-weight="normal" font-style="normal">24</text>
<line x1="376.58" y1="226.50" x2="376.58" y2="230.00" stroke="#1a1a1a" stroke-width="1.1"/>
<text x="376.58" y="237.60" font-size="6.5" text-anchor="middle" fill="#2e2e2e" stroke="#2e2e2e" stroke-width="0.08" font-weight="normal" font-style="normal">48</text>
<line x1="407.07" y1="226.50" x2="407.07" y2="230.00" stroke="#1a1a1a" stroke-width="1.1"/>
<text x="407.07" y="237.60" font-size="6.5" text-anchor="middle" fill="#2e2e2e" stroke="#2e2e2e" stroke-width="0.08" font-weight="normal" font-style="normal">72</text>
<line x1="437.56" y1="226.50" x2="437.56" y2="230.00" stroke="#1a1a1a" stroke-width="1.1"/>
<text x="437.56" y="237.60" font-size="6.5" text-anchor="middle" fill="#2e2e2e" stroke="#2e2e2e" stroke-width="0.08" font-weight="normal" font-style="normal">96</text>
<line x1="468.05" y1="226.50" x2="468.05" y2="230.00" stroke="#1a1a1a" stroke-width="1.1"/>
<text x="468.05" y="237.60" font-size="6.5" text-anchor="middle" fill="#2e2e2e" stroke="#2e2e2e" stroke-width="0.08" font-weight="normal" font-style="normal">120</text>
<line x1="498.54" y1="226.50" x2="498.54" y2="230.00" stroke="#1a1a1a" stroke-width="1.1"/>
<text x="498.54" y="237.60" font-size="6.5" text-anchor="middle" fill="#2e2e2e" stroke="#2e2e2e" stroke-width="0.08" font-weight="normal" font-style="normal">144</text>
<text x="409.60" y="246.35" font-size="8.8" text-anchor="middle" fill="#2a2a2a" stroke="#2a2a2a" stroke-width="0.15" font-weight="bold" font-style="normal" textLength="18.8" lengthAdjust="spacingAndGlyphs" dy="0.2">Months</text>
<line x1="284.90" y1="209.60" x2="302.70" y2="209.60" stroke="#2a497b" stroke-width="1.0"/>
<text x="317.00" y="210.80" font-size="6.3" text-anchor="middle" fill="#282828" stroke="#282828" stroke-width="0.1" font-weight="normal" font-style="normal" letter-spacing="0.18">141 (0)</text>
<text x="346.19" y="210.80" font-size="6.3" text-anchor="middle" fill="#282828" stroke="#282828" stroke-width="0.1" font-weight="normal" font-style="normal" letter-spacing="0.18">131 (3)</text>
<text x="376.68" y="210.80" font-size="6.3" text-anchor="middle" fill="#282828" stroke="#282828" stroke-width="0.1" font-weight="normal" font-style="normal" letter-spacing="0.18">94 (5)</text>
<text x="407.17" y="210.80" font-size="6.3" text-anchor="middle" fill="#282828" stroke="#282828" stroke-width="0.1" font-weight="normal" font-style="normal" letter-spacing="0.18">53 (8)</text>
<text x="437.66" y="210.80" font-size="6.3" text-anchor="middle" fill="#282828" stroke="#282828" stroke-width="0.1" font-weight="normal" font-style="normal" letter-spacing="0.18">33 (10)</text>
<text x="468.15" y="210.80" font-size="6.3" text-anchor="middle" fill="#282828" stroke="#282828" stroke-width="0.1" font-weight="normal" font-style="normal" letter-spacing="0.18">16 (10)</text>
<text x="498.64" y="210.80" font-size="6.3" text-anchor="middle" fill="#282828" stroke="#282828" stroke-width="0.1" font-weight="normal" font-style="normal" letter-spacing="0.18">12 (10)</text>
<line x1="284.90" y1="220.30" x2="302.70" y2="220.30" stroke="#efc340" stroke-width="1.0"/>
<text x="317.00" y="221.50" font-size="6.3" text-anchor="middle" fill="#282828" stroke="#282828" stroke-width="0.1" font-weight="normal" font-style="normal" letter-spacing="0.18">30 (0)</text>
<text x="346.19" y="221.50" font-size="6.3" text-anchor="middle" fill="#282828" stroke="#282828" stroke-width="0.1" font-weight="normal" font-style="normal" letter-spacing="0.18">24 (2)</text>
<text x="376.68" y="221.50" font-size="6.3" text-anchor="middle" fill="#282828" stroke="#282828" stroke-width="0.1" font-weight="normal" font-style="normal" letter-spacing="0.18">19 (3)</text>
<text x="407.17" y="221.50" font-size="6.3" text-anchor="middle" fill="#282828" stroke="#282828" stroke-width="0.1" font-weight="normal" font-style="normal" letter-spacing="0.18">13 (3)</text>
<text x="437.66" y="221.50" font-size="6.3" text-anchor="middle" fill="#282828" stroke="#282828" stroke-width="0.1" font-weight="normal" font-style="normal" letter-spacing="0.18">4 (3)</text>
<text x="468.15" y="221.50" font-size="6.3" text-anchor="middle" fill="#282828" stroke="#282828" stroke-width="0.1" font-weight="normal" font-style="normal" letter-spacing="0.18">1 (4)</text>
<text x="498.64" y="221.50" font-size="6.3" text-anchor="middle" fill="#282828" stroke="#282828" stroke-width="0.1" font-weight="normal" font-style="normal" letter-spacing="0.18">1 (4)</text>
<text x="0" y="0" font-size="8.5" font-weight="bold" text-anchor="middle" fill="#2a2a2a" stroke="#2a2a2a" stroke-width="0.3" transform="translate(279.50,214.70) rotate(-90)" textLength="16.4" lengthAdjust="spacingAndGlyphs">Strata</text>
<text x="40.50" y="455.90" font-size="6.0" text-anchor="start" fill="#333" stroke="#333" stroke-width="0.05" font-weight="normal" font-style="normal" textLength="91.9" lengthAdjust="spacingAndGlyphs" letter-spacing="0.03">Number at risk (number of events)</text>
<line x1="40.50" y1="459.30" x2="40.50" y2="496.00" stroke="#1a1a1a" stroke-width="1.1"/>
<line x1="40.00" y1="495.50" x2="247.80" y2="495.50" stroke="#1a1a1a" stroke-width="1.1"/>
<line x1="50.05" y1="495.50" x2="50.05" y2="499.00" stroke="#1a1a1a" stroke-width="1.1"/>
<text x="50.05" y="505.55" font-size="6.5" text-anchor="middle" fill="#2e2e2e" stroke="#2e2e2e" stroke-width="0.08" font-weight="normal" font-style="normal">0</text>
<line x1="80.62" y1="495.50" x2="80.62" y2="499.00" stroke="#1a1a1a" stroke-width="1.1"/>
<text x="80.62" y="505.55" font-size="6.5" text-anchor="middle" fill="#2e2e2e" stroke="#2e2e2e" stroke-width="0.08" font-weight="normal" font-style="normal">24</text>
<line x1="111.18" y1="495.50" x2="111.18" y2="499.00" stroke="#1a1a1a" stroke-width="1.1"/>
<text x="111.18" y="505.55" font-size="6.5" text-anchor="middle" fill="#2e2e2e" stroke="#2e2e2e" stroke-width="0.08" font-weight="normal" font-style="normal">48</text>
<line x1="141.75" y1="495.50" x2="141.75" y2="499.00" stroke="#1a1a1a" stroke-width="1.1"/>
<text x="141.75" y="505.55" font-size="6.5" text-anchor="middle" fill="#2e2e2e" stroke="#2e2e2e" stroke-width="0.08" font-weight="normal" font-style="normal">72</text>
<line x1="172.32" y1="495.50" x2="172.32" y2="499.00" stroke="#1a1a1a" stroke-width="1.1"/>
<text x="172.32" y="505.55" font-size="6.5" text-anchor="middle" fill="#2e2e2e" stroke="#2e2e2e" stroke-width="0.08" font-weight="normal" font-style="normal">96</text>
<line x1="202.88" y1="495.50" x2="202.88" y2="499.00" stroke="#1a1a1a" stroke-width="1.1"/>
<text x="202.88" y="505.55" font-size="6.5" text-anchor="middle" fill="#2e2e2e" stroke="#2e2e2e" stroke-width="0.08" font-weight="normal" font-style="normal">120</text>
<line x1="233.45" y1="495.50" x2="233.45" y2="499.00" stroke="#1a1a1a" stroke-width="1.1"/>
<text x="233.45" y="505.55" font-size="6.5" text-anchor="middle" fill="#2e2e2e" stroke="#2e2e2e" stroke-width="0.08" font-weight="normal" font-style="normal">144</text>
<text x="144.10" y="514.30" font-size="8.8" text-anchor="middle" fill="#2a2a2a" stroke="#2a2a2a" stroke-width="0.15" font-weight="bold" font-style="normal" textLength="18.8" lengthAdjust="spacingAndGlyphs" dy="0.2">Months</text>
<line x1="19.40" y1="468.30" x2="37.20" y2="468.30" stroke="#2a497b" stroke-width="1.0"/>
<text x="50.75" y="470.40" font-size="6.3" text-anchor="middle" fill="#282828" stroke="#282828" stroke-width="0.1" font-weight="normal" font-style="normal" letter-spacing="0.18">74 (0)</text>
<text x="80.72" y="470.40" font-size="6.3" text-anchor="middle" fill="#282828" stroke="#282828" stroke-width="0.1" font-weight="normal" font-style="normal" letter-spacing="0.18">45 (23)</text>
<text x="111.28" y="470.40" font-size="6.3" text-anchor="middle" fill="#282828" stroke="#282828" stroke-width="0.1" font-weight="normal" font-style="normal" letter-spacing="0.18">22 (33)</text>
<text x="141.85" y="470.40" font-size="6.3" text-anchor="middle" fill="#282828" stroke="#282828" stroke-width="0.1" font-weight="normal" font-style="normal" letter-spacing="0.18">9 (37)</text>
<text x="172.42" y="470.40" font-size="6.3" text-anchor="middle" fill="#282828" stroke="#282828" stroke-width="0.1" font-weight="normal" font-style="normal" letter-spacing="0.18">2 (38)</text>
<text x="202.98" y="470.40" font-size="6.3" text-anchor="middle" fill="#282828" stroke="#282828" stroke-width="0.1" font-weight="normal" font-style="normal" letter-spacing="0.18">1 (38)</text>
<text x="233.55" y="470.40" font-size="6.3" text-anchor="middle" fill="#282828" stroke="#282828" stroke-width="0.1" font-weight="normal" font-style="normal" letter-spacing="0.18">1 (38)</text>
<line x1="19.40" y1="475.90" x2="37.20" y2="475.90" stroke="#efc340" stroke-width="1.0"/>
<text x="50.75" y="478.00" font-size="6.3" text-anchor="middle" fill="#282828" stroke="#282828" stroke-width="0.1" font-weight="normal" font-style="normal" letter-spacing="0.18">67 (0)</text>
<text x="80.72" y="478.00" font-size="6.3" text-anchor="middle" fill="#282828" stroke="#282828" stroke-width="0.1" font-weight="normal" font-style="normal" letter-spacing="0.18">53 (7)</text>
<text x="111.28" y="478.00" font-size="6.3" text-anchor="middle" fill="#282828" stroke="#282828" stroke-width="0.1" font-weight="normal" font-style="normal" letter-spacing="0.18">41 (12)</text>
<text x="141.85" y="478.00" font-size="6.3" text-anchor="middle" fill="#282828" stroke="#282828" stroke-width="0.1" font-weight="normal" font-style="normal" letter-spacing="0.18">26 (15)</text>
<text x="172.42" y="478.00" font-size="6.3" text-anchor="middle" fill="#282828" stroke="#282828" stroke-width="0.1" font-weight="normal" font-style="normal" letter-spacing="0.18">16 (18)</text>
<text x="202.98" y="478.00" font-size="6.3" text-anchor="middle" fill="#282828" stroke="#282828" stroke-width="0.1" font-weight="normal" font-style="normal" letter-spacing="0.18">5 (20)</text>
<text x="233.55" y="478.00" font-size="6.3" text-anchor="middle" fill="#282828" stroke="#282828" stroke-width="0.1" font-weight="normal" font-style="normal" letter-spacing="0.18">3 (20)</text>
<line x1="19.40" y1="483.40" x2="37.20" y2="483.40" stroke="#cbcbcb" stroke-width="1.0"/>
<text x="50.75" y="485.50" font-size="6.3" text-anchor="middle" fill="#282828" stroke="#282828" stroke-width="0.1" font-weight="normal" font-style="normal" letter-spacing="0.18">12 (0)</text>
<text x="80.72" y="485.50" font-size="6.3" text-anchor="middle" fill="#282828" stroke="#282828" stroke-width="0.1" font-weight="normal" font-style="normal" letter-spacing="0.18">8 (3)</text>
<text x="111.28" y="485.50" font-size="6.3" text-anchor="middle" fill="#282828" stroke="#282828" stroke-width="0.1" font-weight="normal" font-style="normal" letter-spacing="0.18">4 (5)</text>
<text x="141.85" y="485.50" font-size="6.3" text-anchor="middle" fill="#282828" stroke="#282828" stroke-width="0.1" font-weight="normal" font-style="normal" letter-spacing="0.18">1 (5)</text>
<text x="172.42" y="485.50" font-size="6.3" text-anchor="middle" fill="#282828" stroke="#282828" stroke-width="0.1" font-weight="normal" font-style="normal" letter-spacing="0.18">0 (6)</text>
<text x="202.98" y="485.50" font-size="6.3" text-anchor="middle" fill="#282828" stroke="#282828" stroke-width="0.1" font-weight="normal" font-style="normal" letter-spacing="0.18">0 (6)</text>
<text x="233.55" y="485.50" font-size="6.3" text-anchor="middle" fill="#282828" stroke="#282828" stroke-width="0.1" font-weight="normal" font-style="normal" letter-spacing="0.18">0 (6)</text>
<line x1="19.40" y1="491.00" x2="37.20" y2="491.00" stroke="#a62a40" stroke-width="1.0"/>
<text x="50.75" y="493.10" font-size="6.3" text-anchor="middle" fill="#282828" stroke="#282828" stroke-width="0.1" font-weight="normal" font-style="normal" letter-spacing="0.18">18 (0)</text>
<text x="80.72" y="493.10" font-size="6.3" text-anchor="middle" fill="#282828" stroke="#282828" stroke-width="0.1" font-weight="normal" font-style="normal" letter-spacing="0.18">9 (7)</text>
<text x="111.28" y="493.10" font-size="6.3" text-anchor="middle" fill="#282828" stroke="#282828" stroke-width="0.1" font-weight="normal" font-style="normal" letter-spacing="0.18">7 (8)</text>
<text x="141.85" y="493.10" font-size="6.3" text-anchor="middle" fill="#282828" stroke="#282828" stroke-width="0.1" font-weight="normal" font-style="normal" letter-spacing="0.18">7 (8)</text>
<text x="172.42" y="493.10" font-size="6.3" text-anchor="middle" fill="#282828" stroke="#282828" stroke-width="0.1" font-weight="normal" font-style="normal" letter-spacing="0.18">2 (9)</text>
<text x="202.98" y="493.10" font-size="6.3" text-anchor="middle" fill="#282828" stroke="#282828" stroke-width="0.1" font-weight="normal" font-style="normal" letter-spacing="0.18">1 (9)</text>
<text x="233.55" y="493.10" font-size="6.3" text-anchor="middle" fill="#282828" stroke="#282828" stroke-width="0.1" font-weight="normal" font-style="normal" letter-spacing="0.18">1 (9)</text>
<text x="0" y="0" font-size="8.5" font-weight="bold" text-anchor="middle" fill="#2a2a2a" stroke="#2a2a2a" stroke-width="0.3" transform="translate(14.00,479.70) rotate(-90)" textLength="15.6" lengthAdjust="spacingAndGlyphs">Strata</text>
<text x="306.30" y="455.90" font-size="6.0" text-anchor="start" fill="#333" stroke="#333" stroke-width="0.05" font-weight="normal" font-style="normal" textLength="91.9" lengthAdjust="spacingAndGlyphs" letter-spacing="0.03">Number at risk (number of events)</text>
<line x1="306.30" y1="459.30" x2="306.30" y2="496.00" stroke="#1a1a1a" stroke-width="1.1"/>
<line x1="305.80" y1="495.50" x2="513.10" y2="495.50" stroke="#1a1a1a" stroke-width="1.1"/>
<line x1="315.60" y1="495.50" x2="315.60" y2="499.00" stroke="#1a1a1a" stroke-width="1.1"/>
<text x="315.60" y="505.55" font-size="6.5" text-anchor="middle" fill="#2e2e2e" stroke="#2e2e2e" stroke-width="0.08" font-weight="normal" font-style="normal">0</text>
<line x1="346.09" y1="495.50" x2="346.09" y2="499.00" stroke="#1a1a1a" stroke-width="1.1"/>
<text x="346.09" y="505.55" font-size="6.5" text-anchor="middle" fill="#2e2e2e" stroke="#2e2e2e" stroke-width="0.08" font-weight="normal" font-style="normal">24</text>
<line x1="376.58" y1="495.50" x2="376.58" y2="499.00" stroke="#1a1a1a" stroke-width="1.1"/>
<text x="376.58" y="505.55" font-size="6.5" text-anchor="middle" fill="#2e2e2e" stroke="#2e2e2e" stroke-width="0.08" font-weight="normal" font-style="normal">48</text>
<line x1="407.07" y1="495.50" x2="407.07" y2="499.00" stroke="#1a1a1a" stroke-width="1.1"/>
<text x="407.07" y="505.55" font-size="6.5" text-anchor="middle" fill="#2e2e2e" stroke="#2e2e2e" stroke-width="0.08" font-weight="normal" font-style="normal">72</text>
<line x1="437.56" y1="495.50" x2="437.56" y2="499.00" stroke="#1a1a1a" stroke-width="1.1"/>
<text x="437.56" y="505.55" font-size="6.5" text-anchor="middle" fill="#2e2e2e" stroke="#2e2e2e" stroke-width="0.08" font-weight="normal" font-style="normal">96</text>
<line x1="468.05" y1="495.50" x2="468.05" y2="499.00" stroke="#1a1a1a" stroke-width="1.1"/>
<text x="468.05" y="505.55" font-size="6.5" text-anchor="middle" fill="#2e2e2e" stroke="#2e2e2e" stroke-width="0.08" font-weight="normal" font-style="normal">120</text>
<line x1="498.54" y1="495.50" x2="498.54" y2="499.00" stroke="#1a1a1a" stroke-width="1.1"/>
<text x="498.54" y="505.55" font-size="6.5" text-anchor="middle" fill="#2e2e2e" stroke="#2e2e2e" stroke-width="0.08" font-weight="normal" font-style="normal">144</text>
<text x="409.60" y="514.30" font-size="8.8" text-anchor="middle" fill="#2a2a2a" stroke="#2a2a2a" stroke-width="0.15" font-weight="bold" font-style="normal" textLength="18.8" lengthAdjust="spacingAndGlyphs" dy="0.2">Months</text>
<line x1="284.90" y1="468.30" x2="302.70" y2="468.30" stroke="#2a497b" stroke-width="1.0"/>
<text x="316.30" y="470.40" font-size="6.3" text-anchor="middle" fill="#282828" stroke="#282828" stroke-width="0.1" font-weight="normal" font-style="normal" letter-spacing="0.18">74 (0)</text>
<text x="346.19" y="470.40" font-size="6.3" text-anchor="middle" fill="#282828" stroke="#282828" stroke-width="0.1" font-weight="normal" font-style="normal" letter-spacing="0.18">71 (1)</text>
<text x="376.68" y="470.40" font-size="6.3" text-anchor="middle" fill="#282828" stroke="#282828" stroke-width="0.1" font-weight="normal" font-style="normal" letter-spacing="0.18">41 (3)</text>
<text x="407.17" y="470.40" font-size="6.3" text-anchor="middle" fill="#282828" stroke="#282828" stroke-width="0.1" font-weight="normal" font-style="normal" letter-spacing="0.18">13 (4)</text>
<text x="437.66" y="470.40" font-size="6.3" text-anchor="middle" fill="#282828" stroke="#282828" stroke-width="0.1" font-weight="normal" font-style="normal" letter-spacing="0.18">6 (4)</text>
<text x="468.15" y="470.40" font-size="6.3" text-anchor="middle" fill="#282828" stroke="#282828" stroke-width="0.1" font-weight="normal" font-style="normal" letter-spacing="0.18">3 (4)</text>
<text x="498.64" y="470.40" font-size="6.3" text-anchor="middle" fill="#282828" stroke="#282828" stroke-width="0.1" font-weight="normal" font-style="normal" letter-spacing="0.18">3 (4)</text>
<line x1="284.90" y1="475.90" x2="302.70" y2="475.90" stroke="#efc340" stroke-width="1.0"/>
<text x="316.30" y="478.00" font-size="6.3" text-anchor="middle" fill="#282828" stroke="#282828" stroke-width="0.1" font-weight="normal" font-style="normal" letter-spacing="0.18">67 (0)</text>
<text x="346.19" y="478.00" font-size="6.3" text-anchor="middle" fill="#282828" stroke="#282828" stroke-width="0.1" font-weight="normal" font-style="normal" letter-spacing="0.18">60 (2)</text>
<text x="376.68" y="478.00" font-size="6.3" text-anchor="middle" fill="#282828" stroke="#282828" stroke-width="0.1" font-weight="normal" font-style="normal" letter-spacing="0.18">53 (2)</text>
<text x="407.17" y="478.00" font-size="6.3" text-anchor="middle" fill="#282828" stroke="#282828" stroke-width="0.1" font-weight="normal" font-style="normal" letter-spacing="0.18">40 (4)</text>
<text x="437.66" y="478.00" font-size="6.3" text-anchor="middle" fill="#282828" stroke="#282828" stroke-width="0.1" font-weight="normal" font-style="normal" letter-spacing="0.18">27 (6)</text>
<text x="468.15" y="478.00" font-size="6.3" text-anchor="middle" fill="#282828" stroke="#282828" stroke-width="0.1" font-weight="normal" font-style="normal" letter-spacing="0.18">13 (6)</text>
<text x="498.64" y="478.00" font-size="6.3" text-anchor="middle" fill="#282828" stroke="#282828" stroke-width="0.1" font-weight="normal" font-style="normal" letter-spacing="0.18">9 (6)</text>
<line x1="284.90" y1="483.40" x2="302.70" y2="483.40" stroke="#cbcbcb" stroke-width="1.0"/>
<text x="316.30" y="485.50" font-size="6.3" text-anchor="middle" fill="#282828" stroke="#282828" stroke-width="0.1" font-weight="normal" font-style="normal" letter-spacing="0.18">12 (0)</text>
<text x="346.19" y="485.50" font-size="6.3" text-anchor="middle" fill="#282828" stroke="#282828" stroke-width="0.1" font-weight="normal" font-style="normal" letter-spacing="0.18">10 (1)</text>
<text x="376.68" y="485.50" font-size="6.3" text-anchor="middle" fill="#282828" stroke="#282828" stroke-width="0.1" font-weight="normal" font-style="normal" letter-spacing="0.18">6 (2)</text>
<text x="407.17" y="485.50" font-size="6.3" text-anchor="middle" fill="#282828" stroke="#282828" stroke-width="0.1" font-weight="normal" font-style="normal" letter-spacing="0.18">1 (2)</text>
<text x="437.66" y="485.50" font-size="6.3" text-anchor="middle" fill="#282828" stroke="#282828" stroke-width="0.1" font-weight="normal" font-style="normal" letter-spacing="0.18">0 (2)</text>
<text x="468.15" y="485.50" font-size="6.3" text-anchor="middle" fill="#282828" stroke="#282828" stroke-width="0.1" font-weight="normal" font-style="normal" letter-spacing="0.18">0 (2)</text>
<text x="498.64" y="485.50" font-size="6.3" text-anchor="middle" fill="#282828" stroke="#282828" stroke-width="0.1" font-weight="normal" font-style="normal" letter-spacing="0.18">0 (2)</text>
<line x1="284.90" y1="491.00" x2="302.70" y2="491.00" stroke="#a62a40" stroke-width="1.0"/>
<text x="316.30" y="493.10" font-size="6.3" text-anchor="middle" fill="#282828" stroke="#282828" stroke-width="0.1" font-weight="normal" font-style="normal" letter-spacing="0.18">18 (0)</text>
<text x="346.19" y="493.10" font-size="6.3" text-anchor="middle" fill="#282828" stroke="#282828" stroke-width="0.1" font-weight="normal" font-style="normal" letter-spacing="0.18">14 (1)</text>
<text x="376.68" y="493.10" font-size="6.3" text-anchor="middle" fill="#282828" stroke="#282828" stroke-width="0.1" font-weight="normal" font-style="normal" letter-spacing="0.18">13 (1)</text>
<text x="407.17" y="493.10" font-size="6.3" text-anchor="middle" fill="#282828" stroke="#282828" stroke-width="0.1" font-weight="normal" font-style="normal" letter-spacing="0.18">12 (1)</text>
<text x="437.66" y="493.10" font-size="6.3" text-anchor="middle" fill="#282828" stroke="#282828" stroke-width="0.1" font-weight="normal" font-style="normal" letter-spacing="0.18">4 (1)</text>
<text x="468.15" y="493.10" font-size="6.3" text-anchor="middle" fill="#282828" stroke="#282828" stroke-width="0.1" font-weight="normal" font-style="normal" letter-spacing="0.18">1 (2)</text>
<text x="498.64" y="493.10" font-size="6.3" text-anchor="middle" fill="#282828" stroke="#282828" stroke-width="0.1" font-weight="normal" font-style="normal" letter-spacing="0.18">1 (2)</text>
<text x="0" y="0" font-size="8.5" font-weight="bold" text-anchor="middle" fill="#2a2a2a" stroke="#2a2a2a" stroke-width="0.3" transform="translate(279.50,479.70) rotate(-90)" textLength="15.6" lengthAdjust="spacingAndGlyphs">Strata</text>
<rect x="0.5" y="0.5" width="519" height="521" fill="none" stroke="#5e5e5e" stroke-width="1"/>
</svg></body></html>
